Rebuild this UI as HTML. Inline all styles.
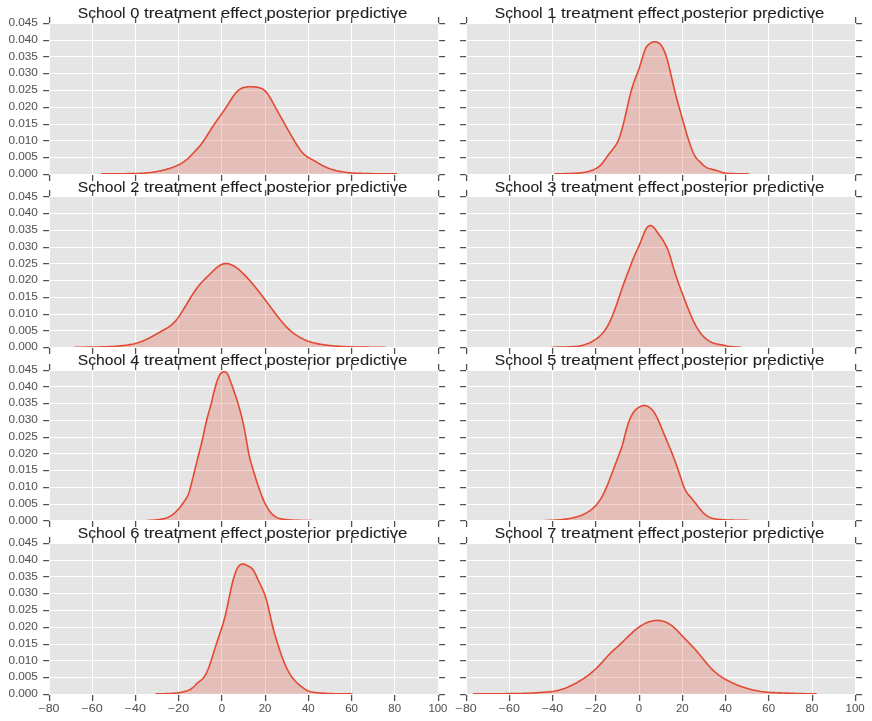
<!DOCTYPE html>
<html><head><meta charset="utf-8"><title>School treatment effect posterior predictive</title>
<style>html,body{margin:0;padding:0;background:#fff;overflow:hidden}body{width:872px;height:721px;font-family:"Liberation Sans",sans-serif}</style></head>
<body>
<svg width="872" height="721" viewBox="0 0 872 721" style="display:block;will-change:transform" font-family="Liberation Sans, sans-serif">
<rect width="872" height="721" fill="#fff"/>
<defs><clipPath id="c0"><rect x="50" y="24" width="388" height="150"/></clipPath><clipPath id="c1"><rect x="467" y="24" width="388" height="150"/></clipPath><clipPath id="c2"><rect x="50" y="197" width="388" height="150"/></clipPath><clipPath id="c3"><rect x="467" y="197" width="388" height="150"/></clipPath><clipPath id="c4"><rect x="50" y="371" width="388" height="149"/></clipPath><clipPath id="c5"><rect x="467" y="371" width="388" height="149"/></clipPath><clipPath id="c6"><rect x="50" y="544" width="388" height="150"/></clipPath><clipPath id="c7"><rect x="467" y="544" width="388" height="150"/></clipPath></defs>
<rect x="50" y="24" width="388" height="150" fill="#E5E5E5"/>
<path d="M92.5 24V174M135.5 24V174M178.5 24V174M221.5 24V174M265.5 24V174M308.5 24V174M351.5 24V174M394.5 24V174M50 157.5H438M50 140.5H438M50 124.5H438M50 107.5H438M50 90.5H438M50 73.5H438M50 56.5H438M50 40.5H438" stroke="#fff" stroke-width="1" fill="none" shape-rendering="crispEdges"/>
<g clip-path="url(#c0)"><polygon points="101,173.86 101,173.86 102.14,173.86 103.29,173.86 104.43,173.85 105.57,173.85 106.71,173.85 107.86,173.84 109,173.83 110.14,173.83 111.29,173.82 112.43,173.81 113.57,173.8 114.71,173.79 115.86,173.78 117,173.77 118.14,173.76 119.29,173.75 120.43,173.74 121.57,173.73 122.71,173.72 123.86,173.71 125,173.7 126.14,173.68 127.29,173.67 128.43,173.65 129.57,173.63 130.72,173.61 131.86,173.59 133,173.57 134.14,173.55 135.29,173.52 136.43,173.49 137.57,173.46 138.72,173.43 139.86,173.4 141,173.35 142.14,173.28 143.29,173.2 144.43,173.11 145.57,173.01 146.72,172.91 147.86,172.8 149,172.69 150.14,172.56 151.29,172.42 152.43,172.26 153.57,172.1 154.72,171.92 155.86,171.73 157,171.52 158.14,171.31 159.29,171.08 160.43,170.85 161.57,170.59 162.72,170.33 163.86,170.05 165,169.75 166.14,169.44 167.29,169.11 168.43,168.77 169.57,168.41 170.72,168.04 171.86,167.65 173,167.24 174.14,166.8 175.29,166.35 176.43,165.86 177.57,165.34 178.72,164.79 179.86,164.19 181,163.55 182.15,162.86 183.29,162.12 184.43,161.33 185.57,160.47 186.72,159.55 187.86,158.57 189,157.51 190.15,156.39 191.29,155.21 192.43,154 193.57,152.78 194.72,151.57 195.86,150.38 197,149.17 198.15,147.91 199.29,146.59 200.43,145.17 201.57,143.67 202.72,142.08 203.86,140.44 205,138.73 206.15,136.99 207.29,135.21 208.43,133.41 209.57,131.6 210.72,129.8 211.86,128 213,126.24 214.15,124.5 215.29,122.82 216.43,121.17 217.57,119.56 218.72,117.96 219.86,116.38 221,114.79 222.15,113.19 223.29,111.57 224.43,109.92 225.57,108.23 226.72,106.48 227.86,104.69 229,102.87 230.15,101.05 231.29,99.26 232.43,97.53 233.57,95.88 234.72,94.33 235.86,92.92 237,91.65 238.15,90.55 239.29,89.62 240.43,88.87 241.58,88.26 242.72,87.79 243.86,87.43 245,87.17 246.15,86.99 247.29,86.88 248.43,86.82 249.58,86.79 250.72,86.77 251.86,86.78 253,86.8 254.15,86.87 255.29,86.97 256.43,87.12 257.58,87.32 258.72,87.58 259.86,87.92 261,88.33 262.15,88.84 263.29,89.48 264.43,90.3 265.58,91.35 266.72,92.65 267.86,94.17 269,95.88 270.15,97.73 271.29,99.71 272.43,101.77 273.58,103.88 274.72,106.01 275.86,108.12 277,110.21 278.15,112.27 279.29,114.32 280.43,116.37 281.58,118.42 282.72,120.46 283.86,122.51 285,124.54 286.15,126.57 287.29,128.59 288.43,130.6 289.58,132.6 290.72,134.59 291.86,136.56 293,138.51 294.15,140.44 295.29,142.35 296.43,144.22 297.58,146.03 298.72,147.76 299.86,149.41 301.01,150.93 302.15,152.33 303.29,153.59 304.43,154.68 305.58,155.63 306.72,156.47 307.86,157.21 309.01,157.89 310.15,158.51 311.29,159.11 312.43,159.71 313.58,160.33 314.72,160.99 315.86,161.67 317.01,162.36 318.15,163.06 319.29,163.75 320.43,164.42 321.58,165.07 322.72,165.68 323.86,166.26 325.01,166.8 326.15,167.31 327.29,167.79 328.43,168.24 329.58,168.67 330.72,169.06 331.86,169.43 333.01,169.78 334.15,170.1 335.29,170.39 336.43,170.67 337.58,170.93 338.72,171.17 339.86,171.39 341.01,171.6 342.15,171.8 343.29,171.98 344.43,172.16 345.58,172.31 346.72,172.46 347.86,172.59 349.01,172.71 350.15,172.82 351.29,172.91 352.44,172.99 353.58,173.06 354.72,173.12 355.86,173.18 357.01,173.24 358.15,173.28 359.29,173.33 360.44,173.37 361.58,173.41 362.72,173.44 363.86,173.47 365.01,173.5 366.15,173.53 367.29,173.56 368.44,173.59 369.58,173.62 370.72,173.64 371.86,173.67 373.01,173.7 374.15,173.73 375.29,173.75 376.44,173.78 377.58,173.8 378.72,173.83 379.86,173.84 381.01,173.86 382.15,173.86 383.29,173.86 384.44,173.86 385.58,173.86 386.72,173.86 387.86,173.86 389.01,173.86 390.15,173.86 391.29,173.86 392.44,173.86 393.58,173.86 394.72,173.86 395.86,173.86 397.01,173.86 397.01,173.86" fill="#E24A33" fill-opacity="0.25"/><polyline points="101,173.86 102.14,173.86 103.29,173.86 104.43,173.85 105.57,173.85 106.71,173.85 107.86,173.84 109,173.83 110.14,173.83 111.29,173.82 112.43,173.81 113.57,173.8 114.71,173.79 115.86,173.78 117,173.77 118.14,173.76 119.29,173.75 120.43,173.74 121.57,173.73 122.71,173.72 123.86,173.71 125,173.7 126.14,173.68 127.29,173.67 128.43,173.65 129.57,173.63 130.72,173.61 131.86,173.59 133,173.57 134.14,173.55 135.29,173.52 136.43,173.49 137.57,173.46 138.72,173.43 139.86,173.4 141,173.35 142.14,173.28 143.29,173.2 144.43,173.11 145.57,173.01 146.72,172.91 147.86,172.8 149,172.69 150.14,172.56 151.29,172.42 152.43,172.26 153.57,172.1 154.72,171.92 155.86,171.73 157,171.52 158.14,171.31 159.29,171.08 160.43,170.85 161.57,170.59 162.72,170.33 163.86,170.05 165,169.75 166.14,169.44 167.29,169.11 168.43,168.77 169.57,168.41 170.72,168.04 171.86,167.65 173,167.24 174.14,166.8 175.29,166.35 176.43,165.86 177.57,165.34 178.72,164.79 179.86,164.19 181,163.55 182.15,162.86 183.29,162.12 184.43,161.33 185.57,160.47 186.72,159.55 187.86,158.57 189,157.51 190.15,156.39 191.29,155.21 192.43,154 193.57,152.78 194.72,151.57 195.86,150.38 197,149.17 198.15,147.91 199.29,146.59 200.43,145.17 201.57,143.67 202.72,142.08 203.86,140.44 205,138.73 206.15,136.99 207.29,135.21 208.43,133.41 209.57,131.6 210.72,129.8 211.86,128 213,126.24 214.15,124.5 215.29,122.82 216.43,121.17 217.57,119.56 218.72,117.96 219.86,116.38 221,114.79 222.15,113.19 223.29,111.57 224.43,109.92 225.57,108.23 226.72,106.48 227.86,104.69 229,102.87 230.15,101.05 231.29,99.26 232.43,97.53 233.57,95.88 234.72,94.33 235.86,92.92 237,91.65 238.15,90.55 239.29,89.62 240.43,88.87 241.58,88.26 242.72,87.79 243.86,87.43 245,87.17 246.15,86.99 247.29,86.88 248.43,86.82 249.58,86.79 250.72,86.77 251.86,86.78 253,86.8 254.15,86.87 255.29,86.97 256.43,87.12 257.58,87.32 258.72,87.58 259.86,87.92 261,88.33 262.15,88.84 263.29,89.48 264.43,90.3 265.58,91.35 266.72,92.65 267.86,94.17 269,95.88 270.15,97.73 271.29,99.71 272.43,101.77 273.58,103.88 274.72,106.01 275.86,108.12 277,110.21 278.15,112.27 279.29,114.32 280.43,116.37 281.58,118.42 282.72,120.46 283.86,122.51 285,124.54 286.15,126.57 287.29,128.59 288.43,130.6 289.58,132.6 290.72,134.59 291.86,136.56 293,138.51 294.15,140.44 295.29,142.35 296.43,144.22 297.58,146.03 298.72,147.76 299.86,149.41 301.01,150.93 302.15,152.33 303.29,153.59 304.43,154.68 305.58,155.63 306.72,156.47 307.86,157.21 309.01,157.89 310.15,158.51 311.29,159.11 312.43,159.71 313.58,160.33 314.72,160.99 315.86,161.67 317.01,162.36 318.15,163.06 319.29,163.75 320.43,164.42 321.58,165.07 322.72,165.68 323.86,166.26 325.01,166.8 326.15,167.31 327.29,167.79 328.43,168.24 329.58,168.67 330.72,169.06 331.86,169.43 333.01,169.78 334.15,170.1 335.29,170.39 336.43,170.67 337.58,170.93 338.72,171.17 339.86,171.39 341.01,171.6 342.15,171.8 343.29,171.98 344.43,172.16 345.58,172.31 346.72,172.46 347.86,172.59 349.01,172.71 350.15,172.82 351.29,172.91 352.44,172.99 353.58,173.06 354.72,173.12 355.86,173.18 357.01,173.24 358.15,173.28 359.29,173.33 360.44,173.37 361.58,173.41 362.72,173.44 363.86,173.47 365.01,173.5 366.15,173.53 367.29,173.56 368.44,173.59 369.58,173.62 370.72,173.64 371.86,173.67 373.01,173.7 374.15,173.73 375.29,173.75 376.44,173.78 377.58,173.8 378.72,173.83 379.86,173.84 381.01,173.86 382.15,173.86 383.29,173.86 384.44,173.86 385.58,173.86 386.72,173.86 387.86,173.86 389.01,173.86 390.15,173.86 391.29,173.86 392.44,173.86 393.58,173.86 394.72,173.86 395.86,173.86 397.01,173.86" fill="none" stroke="#E24A33" stroke-width="1.6" stroke-linejoin="round"/></g>
<text x="8.399999999999999" y="177" font-size="10.2" fill="#555555" stroke="#555555" stroke-width="0.05" textLength="29.5" lengthAdjust="spacingAndGlyphs">0.000</text>
<text x="8.399999999999999" y="160" font-size="10.2" fill="#555555" stroke="#555555" stroke-width="0.05" textLength="29.5" lengthAdjust="spacingAndGlyphs">0.005</text>
<text x="8.399999999999999" y="144" font-size="10.2" fill="#555555" stroke="#555555" stroke-width="0.05" textLength="29.5" lengthAdjust="spacingAndGlyphs">0.010</text>
<text x="8.399999999999999" y="127" font-size="10.2" fill="#555555" stroke="#555555" stroke-width="0.05" textLength="29.5" lengthAdjust="spacingAndGlyphs">0.015</text>
<text x="8.399999999999999" y="110" font-size="10.2" fill="#555555" stroke="#555555" stroke-width="0.05" textLength="29.5" lengthAdjust="spacingAndGlyphs">0.020</text>
<text x="8.399999999999999" y="93" font-size="10.2" fill="#555555" stroke="#555555" stroke-width="0.05" textLength="29.5" lengthAdjust="spacingAndGlyphs">0.025</text>
<text x="8.399999999999999" y="76" font-size="10.2" fill="#555555" stroke="#555555" stroke-width="0.05" textLength="29.5" lengthAdjust="spacingAndGlyphs">0.030</text>
<text x="8.399999999999999" y="60" font-size="10.2" fill="#555555" stroke="#555555" stroke-width="0.05" textLength="29.5" lengthAdjust="spacingAndGlyphs">0.035</text>
<text x="8.399999999999999" y="43" font-size="10.2" fill="#555555" stroke="#555555" stroke-width="0.05" textLength="29.5" lengthAdjust="spacingAndGlyphs">0.040</text>
<text x="8.399999999999999" y="26" font-size="10.2" fill="#555555" stroke="#555555" stroke-width="0.05" textLength="29.5" lengthAdjust="spacingAndGlyphs">0.045</text>
<path d="M49.5 17V23M49.5 175V181M92.5 17V23M92.5 175V181M135.5 17V23M135.5 175V181M178.5 17V23M178.5 175V181M221.5 17V23M221.5 175V181M265.5 17V23M265.5 175V181M308.5 17V23M308.5 175V181M351.5 17V23M351.5 175V181M394.5 17V23M394.5 175V181M438.5 17V23M438.5 175V181M43 174.5H49M439 174.5H445M43 157.5H49M439 157.5H445M43 140.5H49M439 140.5H445M43 124.5H49M439 124.5H445M43 107.5H49M439 107.5H445M43 90.5H49M439 90.5H445M43 73.5H49M439 73.5H445M43 56.5H49M439 56.5H445M43 40.5H49M439 40.5H445M43 23.5H49M439 23.5H445" stroke="#505050" stroke-width="1.3" fill="none" transform="translate(0.1,0.1)"/>
<text x="77.8" y="18" font-size="14.7" fill="#1e1e1e" stroke="#1e1e1e" stroke-width="0.08" textLength="47.81" lengthAdjust="spacingAndGlyphs">School</text>
<text x="130.19" y="18" font-size="14.7" fill="#1e1e1e" stroke="#1e1e1e" stroke-width="0.08" textLength="9.16" lengthAdjust="spacingAndGlyphs">0</text>
<text x="143.93" y="18" font-size="14.7" fill="#1e1e1e" stroke="#1e1e1e" stroke-width="0.08" textLength="72.24" lengthAdjust="spacingAndGlyphs">treatment</text>
<text x="220.75" y="18" font-size="14.7" fill="#1e1e1e" stroke="#1e1e1e" stroke-width="0.08" textLength="41.2" lengthAdjust="spacingAndGlyphs">effect</text>
<text x="266.53" y="18" font-size="14.7" fill="#1e1e1e" stroke="#1e1e1e" stroke-width="0.08" textLength="64.61" lengthAdjust="spacingAndGlyphs">posterior</text>
<text x="335.72" y="18" font-size="14.7" fill="#1e1e1e" stroke="#1e1e1e" stroke-width="0.08" textLength="71.69" lengthAdjust="spacingAndGlyphs">predictive</text>
<rect x="467" y="24" width="388" height="150" fill="#E5E5E5"/>
<path d="M509.5 24V174M552.5 24V174M595.5 24V174M639.5 24V174M682.5 24V174M725.5 24V174M768.5 24V174M812.5 24V174M467 157.5H855M467 140.5H855M467 124.5H855M467 107.5H855M467 90.5H855M467 73.5H855M467 56.5H855M467 40.5H855" stroke="#fff" stroke-width="1" fill="none" shape-rendering="crispEdges"/>
<g clip-path="url(#c1)"><polygon points="554.49,173.86 554.49,173.86 555.24,173.85 555.99,173.85 556.74,173.84 557.49,173.82 558.24,173.81 558.99,173.8 559.74,173.78 560.49,173.77 561.24,173.75 561.99,173.74 562.74,173.72 563.49,173.7 564.24,173.68 564.99,173.67 565.74,173.65 566.49,173.63 567.24,173.6 567.99,173.58 568.74,173.56 569.49,173.53 570.24,173.5 570.99,173.47 571.74,173.44 572.49,173.41 573.24,173.37 573.99,173.34 574.74,173.3 575.49,173.26 576.24,173.22 577,173.17 577.75,173.12 578.5,173.05 579.25,172.99 580,172.91 580.75,172.83 581.5,172.74 582.25,172.65 583,172.54 583.75,172.43 584.5,172.3 585.25,172.17 586,172.02 586.75,171.85 587.5,171.67 588.25,171.46 589,171.25 589.75,171.03 590.5,170.79 591.25,170.54 592,170.28 592.75,170 593.5,169.7 594.25,169.38 595,169.03 595.75,168.65 596.5,168.23 597.25,167.77 598,167.26 598.75,166.7 599.5,166.09 600.25,165.42 601,164.68 601.75,163.87 602.5,162.99 603.25,162.04 604,161.04 604.75,160.01 605.5,158.96 606.25,157.9 607,156.86 607.75,155.83 608.5,154.81 609.25,153.81 610,152.83 610.75,151.85 611.5,150.89 612.25,149.95 613,149.01 613.75,148.06 614.5,147.06 615.25,145.99 616,144.82 616.75,143.52 617.5,142.05 618.25,140.4 619,138.53 619.75,136.45 620.5,134.19 621.25,131.74 622,129.13 622.75,126.37 623.5,123.46 624.25,120.43 625,117.29 625.75,114.04 626.5,110.73 627.25,107.39 628,104.06 628.75,100.8 629.5,97.63 630.25,94.61 631,91.75 631.75,89.05 632.5,86.53 633.25,84.16 634,81.97 634.75,79.92 635.5,77.99 636.25,76.11 637,74.24 637.75,72.33 638.5,70.32 639.25,68.17 640,65.83 640.75,63.35 641.5,60.79 642.25,58.22 643,55.72 643.75,53.36 644.5,51.2 645.25,49.3 646,47.71 646.75,46.48 647.5,45.57 648.25,44.85 649,44.22 649.75,43.66 650.5,43.16 651.25,42.73 652,42.37 652.75,42.09 653.5,41.88 654.25,41.76 655,41.72 655.75,41.78 656.5,41.92 657.25,42.17 658,42.51 658.75,42.97 659.5,43.56 660.25,44.28 661,45.14 661.75,46.17 662.5,47.37 663.25,48.75 664,50.33 664.75,52.11 665.5,54.12 666.25,56.35 667,58.82 667.75,61.5 668.5,64.36 669.25,67.37 670,70.49 670.75,73.7 671.5,76.96 672.25,80.24 673,83.5 673.75,86.72 674.5,89.87 675.25,92.9 676,95.84 676.75,98.69 677.5,101.47 678.25,104.19 679,106.86 679.75,109.51 680.5,112.15 681.25,114.79 682,117.44 682.75,120.1 683.5,122.76 684.25,125.41 685,128.04 685.75,130.64 686.5,133.2 687.25,135.71 688,138.16 688.75,140.53 689.5,142.83 690.25,145.04 691,147.15 691.75,149.14 692.5,151 693.25,152.73 694,154.31 694.75,155.73 695.5,156.97 696.25,158.04 697,158.95 697.75,159.74 698.5,160.47 699.25,161.16 700,161.86 700.75,162.6 701.5,163.37 702.25,164.13 703,164.87 703.75,165.55 704.5,166.15 705.25,166.68 706,167.15 706.75,167.55 707.5,167.9 708.25,168.21 709,168.47 709.75,168.71 710.5,168.92 711.25,169.11 712,169.3 712.75,169.48 713.5,169.67 714.25,169.87 715,170.09 715.75,170.31 716.5,170.54 717.25,170.78 718,171.03 718.75,171.27 719.5,171.51 720.25,171.76 721,172 721.75,172.24 722.5,172.47 723.25,172.69 724,172.9 724.75,173.06 725.5,173.18 726.25,173.28 727,173.35 727.75,173.42 728.5,173.46 729.25,173.5 730,173.53 730.75,173.56 731.5,173.58 732.25,173.6 733,173.63 733.75,173.65 734.5,173.67 735.26,173.68 736.01,173.7 736.76,173.71 737.51,173.73 738.26,173.74 739.01,173.75 739.76,173.76 740.51,173.77 741.26,173.78 742.01,173.79 742.76,173.81 743.51,173.81 744.26,173.82 745.01,173.83 745.76,173.84 746.51,173.85 747.26,173.85 748.01,173.86 748.76,173.86 748.76,173.86" fill="#E24A33" fill-opacity="0.25"/><polyline points="554.49,173.86 555.24,173.85 555.99,173.85 556.74,173.84 557.49,173.82 558.24,173.81 558.99,173.8 559.74,173.78 560.49,173.77 561.24,173.75 561.99,173.74 562.74,173.72 563.49,173.7 564.24,173.68 564.99,173.67 565.74,173.65 566.49,173.63 567.24,173.6 567.99,173.58 568.74,173.56 569.49,173.53 570.24,173.5 570.99,173.47 571.74,173.44 572.49,173.41 573.24,173.37 573.99,173.34 574.74,173.3 575.49,173.26 576.24,173.22 577,173.17 577.75,173.12 578.5,173.05 579.25,172.99 580,172.91 580.75,172.83 581.5,172.74 582.25,172.65 583,172.54 583.75,172.43 584.5,172.3 585.25,172.17 586,172.02 586.75,171.85 587.5,171.67 588.25,171.46 589,171.25 589.75,171.03 590.5,170.79 591.25,170.54 592,170.28 592.75,170 593.5,169.7 594.25,169.38 595,169.03 595.75,168.65 596.5,168.23 597.25,167.77 598,167.26 598.75,166.7 599.5,166.09 600.25,165.42 601,164.68 601.75,163.87 602.5,162.99 603.25,162.04 604,161.04 604.75,160.01 605.5,158.96 606.25,157.9 607,156.86 607.75,155.83 608.5,154.81 609.25,153.81 610,152.83 610.75,151.85 611.5,150.89 612.25,149.95 613,149.01 613.75,148.06 614.5,147.06 615.25,145.99 616,144.82 616.75,143.52 617.5,142.05 618.25,140.4 619,138.53 619.75,136.45 620.5,134.19 621.25,131.74 622,129.13 622.75,126.37 623.5,123.46 624.25,120.43 625,117.29 625.75,114.04 626.5,110.73 627.25,107.39 628,104.06 628.75,100.8 629.5,97.63 630.25,94.61 631,91.75 631.75,89.05 632.5,86.53 633.25,84.16 634,81.97 634.75,79.92 635.5,77.99 636.25,76.11 637,74.24 637.75,72.33 638.5,70.32 639.25,68.17 640,65.83 640.75,63.35 641.5,60.79 642.25,58.22 643,55.72 643.75,53.36 644.5,51.2 645.25,49.3 646,47.71 646.75,46.48 647.5,45.57 648.25,44.85 649,44.22 649.75,43.66 650.5,43.16 651.25,42.73 652,42.37 652.75,42.09 653.5,41.88 654.25,41.76 655,41.72 655.75,41.78 656.5,41.92 657.25,42.17 658,42.51 658.75,42.97 659.5,43.56 660.25,44.28 661,45.14 661.75,46.17 662.5,47.37 663.25,48.75 664,50.33 664.75,52.11 665.5,54.12 666.25,56.35 667,58.82 667.75,61.5 668.5,64.36 669.25,67.37 670,70.49 670.75,73.7 671.5,76.96 672.25,80.24 673,83.5 673.75,86.72 674.5,89.87 675.25,92.9 676,95.84 676.75,98.69 677.5,101.47 678.25,104.19 679,106.86 679.75,109.51 680.5,112.15 681.25,114.79 682,117.44 682.75,120.1 683.5,122.76 684.25,125.41 685,128.04 685.75,130.64 686.5,133.2 687.25,135.71 688,138.16 688.75,140.53 689.5,142.83 690.25,145.04 691,147.15 691.75,149.14 692.5,151 693.25,152.73 694,154.31 694.75,155.73 695.5,156.97 696.25,158.04 697,158.95 697.75,159.74 698.5,160.47 699.25,161.16 700,161.86 700.75,162.6 701.5,163.37 702.25,164.13 703,164.87 703.75,165.55 704.5,166.15 705.25,166.68 706,167.15 706.75,167.55 707.5,167.9 708.25,168.21 709,168.47 709.75,168.71 710.5,168.92 711.25,169.11 712,169.3 712.75,169.48 713.5,169.67 714.25,169.87 715,170.09 715.75,170.31 716.5,170.54 717.25,170.78 718,171.03 718.75,171.27 719.5,171.51 720.25,171.76 721,172 721.75,172.24 722.5,172.47 723.25,172.69 724,172.9 724.75,173.06 725.5,173.18 726.25,173.28 727,173.35 727.75,173.42 728.5,173.46 729.25,173.5 730,173.53 730.75,173.56 731.5,173.58 732.25,173.6 733,173.63 733.75,173.65 734.5,173.67 735.26,173.68 736.01,173.7 736.76,173.71 737.51,173.73 738.26,173.74 739.01,173.75 739.76,173.76 740.51,173.77 741.26,173.78 742.01,173.79 742.76,173.81 743.51,173.81 744.26,173.82 745.01,173.83 745.76,173.84 746.51,173.85 747.26,173.85 748.01,173.86 748.76,173.86" fill="none" stroke="#E24A33" stroke-width="1.6" stroke-linejoin="round"/></g>
<path d="M466.5 17V23M466.5 175V181M509.5 17V23M509.5 175V181M552.5 17V23M552.5 175V181M595.5 17V23M595.5 175V181M639.5 17V23M639.5 175V181M682.5 17V23M682.5 175V181M725.5 17V23M725.5 175V181M768.5 17V23M768.5 175V181M812.5 17V23M812.5 175V181M855.5 17V23M855.5 175V181M460 174.5H466M856 174.5H862M460 157.5H466M856 157.5H862M460 140.5H466M856 140.5H862M460 124.5H466M856 124.5H862M460 107.5H466M856 107.5H862M460 90.5H466M856 90.5H862M460 73.5H466M856 73.5H862M460 56.5H466M856 56.5H862M460 40.5H466M856 40.5H862M460 23.5H466M856 23.5H862" stroke="#505050" stroke-width="1.3" fill="none" transform="translate(0.1,0.1)"/>
<text x="494.8" y="18" font-size="14.7" fill="#1e1e1e" stroke="#1e1e1e" stroke-width="0.08" textLength="47.81" lengthAdjust="spacingAndGlyphs">School</text>
<text x="547.19" y="18" font-size="14.7" fill="#1e1e1e" stroke="#1e1e1e" stroke-width="0.08" textLength="9.16" lengthAdjust="spacingAndGlyphs">1</text>
<text x="560.93" y="18" font-size="14.7" fill="#1e1e1e" stroke="#1e1e1e" stroke-width="0.08" textLength="72.24" lengthAdjust="spacingAndGlyphs">treatment</text>
<text x="637.75" y="18" font-size="14.7" fill="#1e1e1e" stroke="#1e1e1e" stroke-width="0.08" textLength="41.2" lengthAdjust="spacingAndGlyphs">effect</text>
<text x="683.53" y="18" font-size="14.7" fill="#1e1e1e" stroke="#1e1e1e" stroke-width="0.08" textLength="64.61" lengthAdjust="spacingAndGlyphs">posterior</text>
<text x="752.72" y="18" font-size="14.7" fill="#1e1e1e" stroke="#1e1e1e" stroke-width="0.08" textLength="71.69" lengthAdjust="spacingAndGlyphs">predictive</text>
<rect x="50" y="197" width="388" height="150" fill="#E5E5E5"/>
<path d="M92.5 197V347M135.5 197V347M178.5 197V347M221.5 197V347M265.5 197V347M308.5 197V347M351.5 197V347M394.5 197V347M50 330.5H438M50 314.5H438M50 297.5H438M50 280.5H438M50 263.5H438M50 247.5H438M50 230.5H438M50 213.5H438" stroke="#fff" stroke-width="1" fill="none" shape-rendering="crispEdges"/>
<g clip-path="url(#c2)"><polygon points="74.5,347.24 74.5,347.24 75.71,347.24 76.91,347.24 78.11,347.23 79.31,347.23 80.51,347.22 81.71,347.21 82.91,347.2 84.11,347.19 85.31,347.18 86.51,347.17 87.71,347.16 88.91,347.14 90.11,347.13 91.31,347.11 92.51,347.1 93.71,347.08 94.92,347.05 96.12,347.03 97.32,347 98.52,346.98 99.72,346.95 100.92,346.92 102.12,346.89 103.32,346.85 104.52,346.82 105.72,346.79 106.92,346.75 108.12,346.71 109.32,346.67 110.52,346.62 111.72,346.57 112.92,346.51 114.13,346.44 115.33,346.37 116.53,346.28 117.73,346.17 118.93,346.05 120.13,345.92 121.33,345.79 122.53,345.65 123.73,345.51 124.93,345.37 126.13,345.21 127.33,345.05 128.53,344.86 129.73,344.66 130.93,344.44 132.14,344.2 133.34,343.94 134.54,343.66 135.74,343.35 136.94,343.02 138.14,342.66 139.34,342.27 140.54,341.86 141.74,341.41 142.94,340.93 144.14,340.42 145.34,339.89 146.54,339.33 147.74,338.74 148.94,338.14 150.14,337.52 151.35,336.88 152.55,336.23 153.75,335.57 154.95,334.9 156.15,334.23 157.35,333.54 158.55,332.86 159.75,332.18 160.95,331.49 162.15,330.81 163.35,330.14 164.55,329.47 165.75,328.79 166.95,328.07 168.15,327.32 169.35,326.51 170.56,325.63 171.76,324.67 172.96,323.61 174.16,322.43 175.36,321.13 176.56,319.69 177.76,318.13 178.96,316.46 180.16,314.69 181.36,312.85 182.56,310.94 183.76,308.99 184.96,307 186.16,304.99 187.36,302.98 188.56,300.98 189.77,299 190.97,297.04 192.17,295.13 193.37,293.27 194.57,291.47 195.77,289.73 196.97,288.08 198.17,286.51 199.37,285.03 200.57,283.63 201.77,282.3 202.97,281.02 204.17,279.79 205.37,278.59 206.57,277.41 207.77,276.24 208.98,275.07 210.18,273.89 211.38,272.7 212.58,271.51 213.78,270.35 214.98,269.21 216.18,268.14 217.38,267.14 218.58,266.23 219.78,265.43 220.98,264.77 222.18,264.24 223.38,263.87 224.58,263.64 225.78,263.55 226.98,263.58 228.19,263.75 229.39,264.03 230.59,264.42 231.79,264.91 232.99,265.51 234.19,266.19 235.39,266.96 236.59,267.8 237.79,268.72 238.99,269.7 240.19,270.74 241.39,271.83 242.59,272.96 243.79,274.14 244.99,275.36 246.19,276.61 247.4,277.9 248.6,279.23 249.8,280.58 251,281.97 252.2,283.38 253.4,284.82 254.6,286.28 255.8,287.76 257,289.26 258.2,290.78 259.4,292.31 260.6,293.86 261.8,295.42 263,296.99 264.2,298.58 265.4,300.17 266.61,301.77 267.81,303.38 269.01,304.99 270.21,306.61 271.41,308.22 272.61,309.84 273.81,311.45 275.01,313.05 276.21,314.64 277.41,316.21 278.61,317.75 279.81,319.26 281.01,320.73 282.21,322.17 283.41,323.56 284.61,324.91 285.82,326.2 287.02,327.43 288.22,328.6 289.42,329.72 290.62,330.79 291.82,331.8 293.02,332.77 294.22,333.68 295.42,334.54 296.62,335.36 297.82,336.14 299.02,336.87 300.22,337.56 301.42,338.21 302.62,338.81 303.82,339.39 305.03,339.92 306.23,340.42 307.43,340.89 308.63,341.33 309.83,341.74 311.03,342.12 312.23,342.47 313.43,342.79 314.63,343.09 315.83,343.37 317.03,343.63 318.23,343.87 319.43,344.09 320.63,344.3 321.83,344.49 323.03,344.66 324.24,344.82 325.44,344.98 326.64,345.13 327.84,345.28 329.04,345.43 330.24,345.57 331.44,345.7 332.64,345.82 333.84,345.93 335.04,346.03 336.24,346.13 337.44,346.23 338.64,346.32 339.84,346.4 341.04,346.47 342.24,346.53 343.45,346.59 344.65,346.64 345.85,346.69 347.05,346.74 348.25,346.78 349.45,346.82 350.65,346.85 351.85,346.88 353.05,346.91 354.25,346.93 355.45,346.96 356.65,346.98 357.85,347 359.05,347.02 360.25,347.04 361.45,347.06 362.66,347.08 363.86,347.09 365.06,347.11 366.26,347.13 367.46,347.15 368.66,347.17 369.86,347.19 371.06,347.2 372.26,347.22 373.46,347.23 374.66,347.24 375.86,347.24 377.06,347.24 378.26,347.24 379.46,347.24 380.66,347.24 381.87,347.24 383.07,347.24 384.27,347.24 385.47,347.24 385.47,347.24" fill="#E24A33" fill-opacity="0.25"/><polyline points="74.5,347.24 75.71,347.24 76.91,347.24 78.11,347.23 79.31,347.23 80.51,347.22 81.71,347.21 82.91,347.2 84.11,347.19 85.31,347.18 86.51,347.17 87.71,347.16 88.91,347.14 90.11,347.13 91.31,347.11 92.51,347.1 93.71,347.08 94.92,347.05 96.12,347.03 97.32,347 98.52,346.98 99.72,346.95 100.92,346.92 102.12,346.89 103.32,346.85 104.52,346.82 105.72,346.79 106.92,346.75 108.12,346.71 109.32,346.67 110.52,346.62 111.72,346.57 112.92,346.51 114.13,346.44 115.33,346.37 116.53,346.28 117.73,346.17 118.93,346.05 120.13,345.92 121.33,345.79 122.53,345.65 123.73,345.51 124.93,345.37 126.13,345.21 127.33,345.05 128.53,344.86 129.73,344.66 130.93,344.44 132.14,344.2 133.34,343.94 134.54,343.66 135.74,343.35 136.94,343.02 138.14,342.66 139.34,342.27 140.54,341.86 141.74,341.41 142.94,340.93 144.14,340.42 145.34,339.89 146.54,339.33 147.74,338.74 148.94,338.14 150.14,337.52 151.35,336.88 152.55,336.23 153.75,335.57 154.95,334.9 156.15,334.23 157.35,333.54 158.55,332.86 159.75,332.18 160.95,331.49 162.15,330.81 163.35,330.14 164.55,329.47 165.75,328.79 166.95,328.07 168.15,327.32 169.35,326.51 170.56,325.63 171.76,324.67 172.96,323.61 174.16,322.43 175.36,321.13 176.56,319.69 177.76,318.13 178.96,316.46 180.16,314.69 181.36,312.85 182.56,310.94 183.76,308.99 184.96,307 186.16,304.99 187.36,302.98 188.56,300.98 189.77,299 190.97,297.04 192.17,295.13 193.37,293.27 194.57,291.47 195.77,289.73 196.97,288.08 198.17,286.51 199.37,285.03 200.57,283.63 201.77,282.3 202.97,281.02 204.17,279.79 205.37,278.59 206.57,277.41 207.77,276.24 208.98,275.07 210.18,273.89 211.38,272.7 212.58,271.51 213.78,270.35 214.98,269.21 216.18,268.14 217.38,267.14 218.58,266.23 219.78,265.43 220.98,264.77 222.18,264.24 223.38,263.87 224.58,263.64 225.78,263.55 226.98,263.58 228.19,263.75 229.39,264.03 230.59,264.42 231.79,264.91 232.99,265.51 234.19,266.19 235.39,266.96 236.59,267.8 237.79,268.72 238.99,269.7 240.19,270.74 241.39,271.83 242.59,272.96 243.79,274.14 244.99,275.36 246.19,276.61 247.4,277.9 248.6,279.23 249.8,280.58 251,281.97 252.2,283.38 253.4,284.82 254.6,286.28 255.8,287.76 257,289.26 258.2,290.78 259.4,292.31 260.6,293.86 261.8,295.42 263,296.99 264.2,298.58 265.4,300.17 266.61,301.77 267.81,303.38 269.01,304.99 270.21,306.61 271.41,308.22 272.61,309.84 273.81,311.45 275.01,313.05 276.21,314.64 277.41,316.21 278.61,317.75 279.81,319.26 281.01,320.73 282.21,322.17 283.41,323.56 284.61,324.91 285.82,326.2 287.02,327.43 288.22,328.6 289.42,329.72 290.62,330.79 291.82,331.8 293.02,332.77 294.22,333.68 295.42,334.54 296.62,335.36 297.82,336.14 299.02,336.87 300.22,337.56 301.42,338.21 302.62,338.81 303.82,339.39 305.03,339.92 306.23,340.42 307.43,340.89 308.63,341.33 309.83,341.74 311.03,342.12 312.23,342.47 313.43,342.79 314.63,343.09 315.83,343.37 317.03,343.63 318.23,343.87 319.43,344.09 320.63,344.3 321.83,344.49 323.03,344.66 324.24,344.82 325.44,344.98 326.64,345.13 327.84,345.28 329.04,345.43 330.24,345.57 331.44,345.7 332.64,345.82 333.84,345.93 335.04,346.03 336.24,346.13 337.44,346.23 338.64,346.32 339.84,346.4 341.04,346.47 342.24,346.53 343.45,346.59 344.65,346.64 345.85,346.69 347.05,346.74 348.25,346.78 349.45,346.82 350.65,346.85 351.85,346.88 353.05,346.91 354.25,346.93 355.45,346.96 356.65,346.98 357.85,347 359.05,347.02 360.25,347.04 361.45,347.06 362.66,347.08 363.86,347.09 365.06,347.11 366.26,347.13 367.46,347.15 368.66,347.17 369.86,347.19 371.06,347.2 372.26,347.22 373.46,347.23 374.66,347.24 375.86,347.24 377.06,347.24 378.26,347.24 379.46,347.24 380.66,347.24 381.87,347.24 383.07,347.24 384.27,347.24 385.47,347.24" fill="none" stroke="#E24A33" stroke-width="1.6" stroke-linejoin="round"/></g>
<text x="8.399999999999999" y="350" font-size="10.2" fill="#555555" stroke="#555555" stroke-width="0.05" textLength="29.5" lengthAdjust="spacingAndGlyphs">0.000</text>
<text x="8.399999999999999" y="334" font-size="10.2" fill="#555555" stroke="#555555" stroke-width="0.05" textLength="29.5" lengthAdjust="spacingAndGlyphs">0.005</text>
<text x="8.399999999999999" y="317" font-size="10.2" fill="#555555" stroke="#555555" stroke-width="0.05" textLength="29.5" lengthAdjust="spacingAndGlyphs">0.010</text>
<text x="8.399999999999999" y="300" font-size="10.2" fill="#555555" stroke="#555555" stroke-width="0.05" textLength="29.5" lengthAdjust="spacingAndGlyphs">0.015</text>
<text x="8.399999999999999" y="283" font-size="10.2" fill="#555555" stroke="#555555" stroke-width="0.05" textLength="29.5" lengthAdjust="spacingAndGlyphs">0.020</text>
<text x="8.399999999999999" y="267" font-size="10.2" fill="#555555" stroke="#555555" stroke-width="0.05" textLength="29.5" lengthAdjust="spacingAndGlyphs">0.025</text>
<text x="8.399999999999999" y="250" font-size="10.2" fill="#555555" stroke="#555555" stroke-width="0.05" textLength="29.5" lengthAdjust="spacingAndGlyphs">0.030</text>
<text x="8.399999999999999" y="233" font-size="10.2" fill="#555555" stroke="#555555" stroke-width="0.05" textLength="29.5" lengthAdjust="spacingAndGlyphs">0.035</text>
<text x="8.399999999999999" y="216" font-size="10.2" fill="#555555" stroke="#555555" stroke-width="0.05" textLength="29.5" lengthAdjust="spacingAndGlyphs">0.040</text>
<text x="8.399999999999999" y="200" font-size="10.2" fill="#555555" stroke="#555555" stroke-width="0.05" textLength="29.5" lengthAdjust="spacingAndGlyphs">0.045</text>
<path d="M49.5 190V196M49.5 348V354M92.5 190V196M92.5 348V354M135.5 190V196M135.5 348V354M178.5 190V196M178.5 348V354M221.5 190V196M221.5 348V354M265.5 190V196M265.5 348V354M308.5 190V196M308.5 348V354M351.5 190V196M351.5 348V354M394.5 190V196M394.5 348V354M438.5 190V196M438.5 348V354M43 347.5H49M439 347.5H445M43 330.5H49M439 330.5H445M43 314.5H49M439 314.5H445M43 297.5H49M439 297.5H445M43 280.5H49M439 280.5H445M43 263.5H49M439 263.5H445M43 247.5H49M439 247.5H445M43 230.5H49M439 230.5H445M43 213.5H49M439 213.5H445M43 196.5H49M439 196.5H445" stroke="#505050" stroke-width="1.3" fill="none" transform="translate(0.1,0.1)"/>
<text x="77.8" y="192" font-size="14.7" fill="#1e1e1e" stroke="#1e1e1e" stroke-width="0.08" textLength="47.81" lengthAdjust="spacingAndGlyphs">School</text>
<text x="130.19" y="192" font-size="14.7" fill="#1e1e1e" stroke="#1e1e1e" stroke-width="0.08" textLength="9.16" lengthAdjust="spacingAndGlyphs">2</text>
<text x="143.93" y="192" font-size="14.7" fill="#1e1e1e" stroke="#1e1e1e" stroke-width="0.08" textLength="72.24" lengthAdjust="spacingAndGlyphs">treatment</text>
<text x="220.75" y="192" font-size="14.7" fill="#1e1e1e" stroke="#1e1e1e" stroke-width="0.08" textLength="41.2" lengthAdjust="spacingAndGlyphs">effect</text>
<text x="266.53" y="192" font-size="14.7" fill="#1e1e1e" stroke="#1e1e1e" stroke-width="0.08" textLength="64.61" lengthAdjust="spacingAndGlyphs">posterior</text>
<text x="335.72" y="192" font-size="14.7" fill="#1e1e1e" stroke="#1e1e1e" stroke-width="0.08" textLength="71.69" lengthAdjust="spacingAndGlyphs">predictive</text>
<rect x="467" y="197" width="388" height="150" fill="#E5E5E5"/>
<path d="M509.5 197V347M552.5 197V347M595.5 197V347M639.5 197V347M682.5 197V347M725.5 197V347M768.5 197V347M812.5 197V347M467 330.5H855M467 314.5H855M467 297.5H855M467 280.5H855M467 263.5H855M467 247.5H855M467 230.5H855M467 213.5H855" stroke="#fff" stroke-width="1" fill="none" shape-rendering="crispEdges"/>
<g clip-path="url(#c3)"><polygon points="551.25,347.24 551.25,347.24 551.99,347.24 552.72,347.23 553.45,347.23 554.19,347.22 554.92,347.21 555.65,347.2 556.39,347.19 557.12,347.17 557.85,347.16 558.59,347.14 559.32,347.13 560.06,347.11 560.79,347.1 561.52,347.08 562.26,347.06 562.99,347.05 563.72,347.03 564.46,347.01 565.19,346.99 565.92,346.97 566.66,346.95 567.39,346.92 568.12,346.9 568.86,346.87 569.59,346.84 570.33,346.81 571.06,346.77 571.79,346.74 572.53,346.7 573.26,346.66 573.99,346.62 574.73,346.57 575.46,346.52 576.19,346.47 576.93,346.4 577.66,346.31 578.4,346.2 579.13,346.08 579.86,345.95 580.6,345.8 581.33,345.64 582.06,345.46 582.8,345.27 583.53,345.06 584.26,344.84 585,344.61 585.73,344.36 586.47,344.1 587.2,343.82 587.93,343.53 588.67,343.22 589.4,342.89 590.13,342.54 590.87,342.18 591.6,341.79 592.33,341.39 593.07,340.97 593.8,340.52 594.53,340.06 595.27,339.58 596,339.07 596.74,338.54 597.47,337.99 598.2,337.41 598.94,336.8 599.67,336.15 600.4,335.47 601.14,334.74 601.87,333.97 602.6,333.15 603.34,332.27 604.07,331.35 604.81,330.36 605.54,329.31 606.27,328.19 607.01,327.01 607.74,325.75 608.47,324.41 609.21,322.99 609.94,321.49 610.67,319.91 611.41,318.24 612.14,316.5 612.88,314.69 613.61,312.81 614.34,310.88 615.08,308.89 615.81,306.85 616.54,304.77 617.28,302.65 618.01,300.51 618.74,298.33 619.48,296.14 620.21,293.94 620.94,291.73 621.68,289.54 622.41,287.37 623.15,285.24 623.88,283.15 624.61,281.12 625.35,279.16 626.08,277.25 626.81,275.38 627.55,273.51 628.28,271.62 629.01,269.69 629.75,267.73 630.48,265.77 631.22,263.81 631.95,261.89 632.68,260 633.42,258.18 634.15,256.44 634.88,254.78 635.62,253.19 636.35,251.62 637.08,250.06 637.82,248.47 638.55,246.83 639.29,245.12 640.02,243.36 640.75,241.56 641.49,239.72 642.22,237.86 642.95,235.98 643.69,234.12 644.42,232.36 645.15,230.75 645.89,229.36 646.62,228.2 647.35,227.25 648.09,226.52 648.82,225.99 649.56,225.67 650.29,225.55 651.02,225.62 651.76,225.88 652.49,226.32 653.22,226.93 653.96,227.68 654.69,228.56 655.42,229.52 656.16,230.54 656.89,231.6 657.63,232.67 658.36,233.71 659.09,234.74 659.83,235.75 660.56,236.77 661.29,237.8 662.03,238.87 662.76,239.97 663.49,241.13 664.23,242.35 664.96,243.65 665.7,245.04 666.43,246.53 667.16,248.14 667.9,249.89 668.63,251.8 669.36,253.92 670.1,256.27 670.83,258.78 671.56,261.37 672.3,263.94 673.03,266.45 673.76,268.88 674.5,271.25 675.23,273.55 675.97,275.8 676.7,277.99 677.43,280.13 678.17,282.22 678.9,284.28 679.63,286.3 680.37,288.3 681.1,290.27 681.83,292.22 682.57,294.15 683.3,296.08 684.04,298 684.77,299.93 685.5,301.85 686.24,303.75 686.97,305.65 687.7,307.53 688.44,309.38 689.17,311.2 689.9,313 690.64,314.75 691.37,316.46 692.1,318.13 692.84,319.74 693.57,321.3 694.31,322.8 695.04,324.23 695.77,325.6 696.51,326.91 697.24,328.15 697.97,329.34 698.71,330.46 699.44,331.53 700.17,332.55 700.91,333.51 701.64,334.42 702.38,335.27 703.11,336.08 703.84,336.84 704.58,337.55 705.31,338.22 706.04,338.84 706.78,339.42 707.51,339.96 708.24,340.46 708.98,340.93 709.71,341.35 710.45,341.75 711.18,342.1 711.91,342.43 712.65,342.73 713.38,343 714.11,343.25 714.85,343.48 715.58,343.69 716.31,343.88 717.05,344.05 717.78,344.21 718.51,344.36 719.25,344.5 719.98,344.63 720.72,344.76 721.45,344.88 722.18,345.01 722.92,345.13 723.65,345.25 724.38,345.39 725.12,345.56 725.85,345.77 726.58,345.95 727.32,346.1 728.05,346.23 728.79,346.35 729.52,346.45 730.25,346.55 730.99,346.63 731.72,346.7 732.45,346.76 733.19,346.82 733.92,346.87 734.65,346.92 735.39,346.97 736.12,347.02 736.86,347.06 737.59,347.1 738.32,347.14 739.06,347.17 739.79,347.2 740.52,347.22 741.26,347.24 741.26,347.24" fill="#E24A33" fill-opacity="0.25"/><polyline points="551.25,347.24 551.99,347.24 552.72,347.23 553.45,347.23 554.19,347.22 554.92,347.21 555.65,347.2 556.39,347.19 557.12,347.17 557.85,347.16 558.59,347.14 559.32,347.13 560.06,347.11 560.79,347.1 561.52,347.08 562.26,347.06 562.99,347.05 563.72,347.03 564.46,347.01 565.19,346.99 565.92,346.97 566.66,346.95 567.39,346.92 568.12,346.9 568.86,346.87 569.59,346.84 570.33,346.81 571.06,346.77 571.79,346.74 572.53,346.7 573.26,346.66 573.99,346.62 574.73,346.57 575.46,346.52 576.19,346.47 576.93,346.4 577.66,346.31 578.4,346.2 579.13,346.08 579.86,345.95 580.6,345.8 581.33,345.64 582.06,345.46 582.8,345.27 583.53,345.06 584.26,344.84 585,344.61 585.73,344.36 586.47,344.1 587.2,343.82 587.93,343.53 588.67,343.22 589.4,342.89 590.13,342.54 590.87,342.18 591.6,341.79 592.33,341.39 593.07,340.97 593.8,340.52 594.53,340.06 595.27,339.58 596,339.07 596.74,338.54 597.47,337.99 598.2,337.41 598.94,336.8 599.67,336.15 600.4,335.47 601.14,334.74 601.87,333.97 602.6,333.15 603.34,332.27 604.07,331.35 604.81,330.36 605.54,329.31 606.27,328.19 607.01,327.01 607.74,325.75 608.47,324.41 609.21,322.99 609.94,321.49 610.67,319.91 611.41,318.24 612.14,316.5 612.88,314.69 613.61,312.81 614.34,310.88 615.08,308.89 615.81,306.85 616.54,304.77 617.28,302.65 618.01,300.51 618.74,298.33 619.48,296.14 620.21,293.94 620.94,291.73 621.68,289.54 622.41,287.37 623.15,285.24 623.88,283.15 624.61,281.12 625.35,279.16 626.08,277.25 626.81,275.38 627.55,273.51 628.28,271.62 629.01,269.69 629.75,267.73 630.48,265.77 631.22,263.81 631.95,261.89 632.68,260 633.42,258.18 634.15,256.44 634.88,254.78 635.62,253.19 636.35,251.62 637.08,250.06 637.82,248.47 638.55,246.83 639.29,245.12 640.02,243.36 640.75,241.56 641.49,239.72 642.22,237.86 642.95,235.98 643.69,234.12 644.42,232.36 645.15,230.75 645.89,229.36 646.62,228.2 647.35,227.25 648.09,226.52 648.82,225.99 649.56,225.67 650.29,225.55 651.02,225.62 651.76,225.88 652.49,226.32 653.22,226.93 653.96,227.68 654.69,228.56 655.42,229.52 656.16,230.54 656.89,231.6 657.63,232.67 658.36,233.71 659.09,234.74 659.83,235.75 660.56,236.77 661.29,237.8 662.03,238.87 662.76,239.97 663.49,241.13 664.23,242.35 664.96,243.65 665.7,245.04 666.43,246.53 667.16,248.14 667.9,249.89 668.63,251.8 669.36,253.92 670.1,256.27 670.83,258.78 671.56,261.37 672.3,263.94 673.03,266.45 673.76,268.88 674.5,271.25 675.23,273.55 675.97,275.8 676.7,277.99 677.43,280.13 678.17,282.22 678.9,284.28 679.63,286.3 680.37,288.3 681.1,290.27 681.83,292.22 682.57,294.15 683.3,296.08 684.04,298 684.77,299.93 685.5,301.85 686.24,303.75 686.97,305.65 687.7,307.53 688.44,309.38 689.17,311.2 689.9,313 690.64,314.75 691.37,316.46 692.1,318.13 692.84,319.74 693.57,321.3 694.31,322.8 695.04,324.23 695.77,325.6 696.51,326.91 697.24,328.15 697.97,329.34 698.71,330.46 699.44,331.53 700.17,332.55 700.91,333.51 701.64,334.42 702.38,335.27 703.11,336.08 703.84,336.84 704.58,337.55 705.31,338.22 706.04,338.84 706.78,339.42 707.51,339.96 708.24,340.46 708.98,340.93 709.71,341.35 710.45,341.75 711.18,342.1 711.91,342.43 712.65,342.73 713.38,343 714.11,343.25 714.85,343.48 715.58,343.69 716.31,343.88 717.05,344.05 717.78,344.21 718.51,344.36 719.25,344.5 719.98,344.63 720.72,344.76 721.45,344.88 722.18,345.01 722.92,345.13 723.65,345.25 724.38,345.39 725.12,345.56 725.85,345.77 726.58,345.95 727.32,346.1 728.05,346.23 728.79,346.35 729.52,346.45 730.25,346.55 730.99,346.63 731.72,346.7 732.45,346.76 733.19,346.82 733.92,346.87 734.65,346.92 735.39,346.97 736.12,347.02 736.86,347.06 737.59,347.1 738.32,347.14 739.06,347.17 739.79,347.2 740.52,347.22 741.26,347.24" fill="none" stroke="#E24A33" stroke-width="1.6" stroke-linejoin="round"/></g>
<path d="M466.5 190V196M466.5 348V354M509.5 190V196M509.5 348V354M552.5 190V196M552.5 348V354M595.5 190V196M595.5 348V354M639.5 190V196M639.5 348V354M682.5 190V196M682.5 348V354M725.5 190V196M725.5 348V354M768.5 190V196M768.5 348V354M812.5 190V196M812.5 348V354M855.5 190V196M855.5 348V354M460 347.5H466M856 347.5H862M460 330.5H466M856 330.5H862M460 314.5H466M856 314.5H862M460 297.5H466M856 297.5H862M460 280.5H466M856 280.5H862M460 263.5H466M856 263.5H862M460 247.5H466M856 247.5H862M460 230.5H466M856 230.5H862M460 213.5H466M856 213.5H862M460 196.5H466M856 196.5H862" stroke="#505050" stroke-width="1.3" fill="none" transform="translate(0.1,0.1)"/>
<text x="494.8" y="192" font-size="14.7" fill="#1e1e1e" stroke="#1e1e1e" stroke-width="0.08" textLength="47.81" lengthAdjust="spacingAndGlyphs">School</text>
<text x="547.19" y="192" font-size="14.7" fill="#1e1e1e" stroke="#1e1e1e" stroke-width="0.08" textLength="9.16" lengthAdjust="spacingAndGlyphs">3</text>
<text x="560.93" y="192" font-size="14.7" fill="#1e1e1e" stroke="#1e1e1e" stroke-width="0.08" textLength="72.24" lengthAdjust="spacingAndGlyphs">treatment</text>
<text x="637.75" y="192" font-size="14.7" fill="#1e1e1e" stroke="#1e1e1e" stroke-width="0.08" textLength="41.2" lengthAdjust="spacingAndGlyphs">effect</text>
<text x="683.53" y="192" font-size="14.7" fill="#1e1e1e" stroke="#1e1e1e" stroke-width="0.08" textLength="64.61" lengthAdjust="spacingAndGlyphs">posterior</text>
<text x="752.72" y="192" font-size="14.7" fill="#1e1e1e" stroke="#1e1e1e" stroke-width="0.08" textLength="71.69" lengthAdjust="spacingAndGlyphs">predictive</text>
<rect x="50" y="371" width="388" height="149" fill="#E5E5E5"/>
<path d="M92.5 371V520M135.5 371V520M178.5 371V520M221.5 371V520M265.5 371V520M308.5 371V520M351.5 371V520M394.5 371V520M50 504.5H438M50 487.5H438M50 470.5H438M50 453.5H438M50 437.5H438M50 420.5H438M50 403.5H438M50 386.5H438" stroke="#fff" stroke-width="1" fill="none" shape-rendering="crispEdges"/>
<g clip-path="url(#c4)"><polygon points="146.25,520.48 146.25,520.48 146.9,520.48 147.54,520.47 148.18,520.46 148.82,520.44 149.46,520.42 150.11,520.39 150.75,520.36 151.39,520.32 152.03,520.28 152.67,520.23 153.31,520.18 153.96,520.13 154.6,520.07 155.24,520.01 155.88,519.96 156.52,519.89 157.17,519.81 157.81,519.73 158.45,519.64 159.09,519.55 159.73,519.45 160.38,519.35 161.02,519.25 161.66,519.14 162.3,519.02 162.94,518.89 163.59,518.75 164.23,518.6 164.87,518.43 165.51,518.23 166.15,518.01 166.79,517.77 167.44,517.51 168.08,517.23 168.72,516.93 169.36,516.6 170,516.25 170.65,515.88 171.29,515.48 171.93,515.05 172.57,514.59 173.21,514.11 173.86,513.6 174.5,513.06 175.14,512.49 175.78,511.89 176.42,511.25 177.07,510.59 177.71,509.9 178.35,509.18 178.99,508.44 179.63,507.66 180.27,506.87 180.92,506.04 181.56,505.19 182.2,504.32 182.84,503.42 183.48,502.5 184.13,501.55 184.77,500.58 185.41,499.59 186.05,498.59 186.69,497.56 187.34,496.49 187.98,495.29 188.62,493.76 189.26,491.81 189.9,489.53 190.55,487.06 191.19,484.53 191.83,481.97 192.47,479.4 193.11,476.82 193.76,474.24 194.4,471.66 195.04,469.09 195.68,466.53 196.32,463.97 196.96,461.41 197.61,458.86 198.25,456.31 198.89,453.77 199.53,451.24 200.17,448.69 200.82,446.11 201.46,443.48 202.1,440.77 202.74,437.97 203.38,435.05 204.03,432.03 204.67,428.98 205.31,425.97 205.95,423.06 206.59,420.31 207.24,417.78 207.88,415.43 208.52,413.2 209.16,411.02 209.8,408.84 210.44,406.58 211.09,404.19 211.73,401.6 212.37,398.85 213.01,396.05 213.65,393.32 214.3,390.71 214.94,388.24 215.58,385.92 216.22,383.76 216.86,381.76 217.51,379.92 218.15,378.27 218.79,376.79 219.43,375.5 220.07,374.41 220.72,373.52 221.36,372.83 222,372.32 222.64,371.97 223.28,371.79 223.92,371.74 224.57,371.81 225.21,372 225.85,372.28 226.49,372.67 227.13,373.31 227.78,374.32 228.42,375.76 229.06,377.47 229.7,379.23 230.34,380.99 230.99,382.74 231.63,384.51 232.27,386.28 232.91,388.07 233.55,389.87 234.2,391.7 234.84,393.55 235.48,395.44 236.12,397.37 236.76,399.34 237.4,401.37 238.05,403.45 238.69,405.61 239.33,407.85 239.97,410.18 240.61,412.6 241.26,415.12 241.9,417.75 242.54,420.5 243.18,423.38 243.82,426.4 244.47,429.56 245.11,432.89 245.75,436.38 246.39,440.04 247.03,443.8 247.68,447.56 248.32,451.17 248.96,454.46 249.6,457.37 250.24,459.97 250.88,462.36 251.53,464.61 252.17,466.76 252.81,468.86 253.45,470.94 254.09,473.02 254.74,475.09 255.38,477.15 256.02,479.2 256.66,481.22 257.3,483.21 257.95,485.17 258.59,487.09 259.23,488.98 259.87,490.81 260.51,492.59 261.16,494.32 261.8,495.98 262.44,497.58 263.08,499.11 263.72,500.58 264.36,501.98 265.01,503.32 265.65,504.6 266.29,505.81 266.93,506.96 267.57,508.05 268.22,509.08 268.86,510.05 269.5,510.97 270.14,511.82 270.78,512.61 271.43,513.35 272.07,514.02 272.71,514.65 273.35,515.22 273.99,515.74 274.64,516.22 275.28,516.65 275.92,517.04 276.56,517.39 277.2,517.7 277.85,517.97 278.49,518.21 279.13,518.42 279.77,518.59 280.41,518.75 281.05,518.88 281.7,518.99 282.34,519.1 282.98,519.2 283.62,519.3 284.26,519.39 284.91,519.47 285.55,519.54 286.19,519.61 286.83,519.67 287.47,519.72 288.12,519.78 288.76,519.84 289.4,519.89 290.04,519.94 290.68,519.99 291.33,520.03 291.97,520.08 292.61,520.12 293.25,520.15 293.89,520.19 294.53,520.22 295.18,520.25 295.82,520.27 296.46,520.29 297.1,520.31 297.74,520.33 298.39,520.35 299.03,520.37 299.67,520.39 300.31,520.41 300.95,520.43 301.6,520.44 302.24,520.45 302.88,520.46 303.52,520.47 304.16,520.48 304.81,520.48 305.45,520.48 306.09,520.48 306.73,520.48 307.37,520.48 308.01,520.48 308.66,520.48 309.3,520.48 309.94,520.48 310.58,520.48 311.22,520.48 311.87,520.48 312.51,520.48 312.51,520.48" fill="#E24A33" fill-opacity="0.25"/><polyline points="146.25,520.48 146.9,520.48 147.54,520.47 148.18,520.46 148.82,520.44 149.46,520.42 150.11,520.39 150.75,520.36 151.39,520.32 152.03,520.28 152.67,520.23 153.31,520.18 153.96,520.13 154.6,520.07 155.24,520.01 155.88,519.96 156.52,519.89 157.17,519.81 157.81,519.73 158.45,519.64 159.09,519.55 159.73,519.45 160.38,519.35 161.02,519.25 161.66,519.14 162.3,519.02 162.94,518.89 163.59,518.75 164.23,518.6 164.87,518.43 165.51,518.23 166.15,518.01 166.79,517.77 167.44,517.51 168.08,517.23 168.72,516.93 169.36,516.6 170,516.25 170.65,515.88 171.29,515.48 171.93,515.05 172.57,514.59 173.21,514.11 173.86,513.6 174.5,513.06 175.14,512.49 175.78,511.89 176.42,511.25 177.07,510.59 177.71,509.9 178.35,509.18 178.99,508.44 179.63,507.66 180.27,506.87 180.92,506.04 181.56,505.19 182.2,504.32 182.84,503.42 183.48,502.5 184.13,501.55 184.77,500.58 185.41,499.59 186.05,498.59 186.69,497.56 187.34,496.49 187.98,495.29 188.62,493.76 189.26,491.81 189.9,489.53 190.55,487.06 191.19,484.53 191.83,481.97 192.47,479.4 193.11,476.82 193.76,474.24 194.4,471.66 195.04,469.09 195.68,466.53 196.32,463.97 196.96,461.41 197.61,458.86 198.25,456.31 198.89,453.77 199.53,451.24 200.17,448.69 200.82,446.11 201.46,443.48 202.1,440.77 202.74,437.97 203.38,435.05 204.03,432.03 204.67,428.98 205.31,425.97 205.95,423.06 206.59,420.31 207.24,417.78 207.88,415.43 208.52,413.2 209.16,411.02 209.8,408.84 210.44,406.58 211.09,404.19 211.73,401.6 212.37,398.85 213.01,396.05 213.65,393.32 214.3,390.71 214.94,388.24 215.58,385.92 216.22,383.76 216.86,381.76 217.51,379.92 218.15,378.27 218.79,376.79 219.43,375.5 220.07,374.41 220.72,373.52 221.36,372.83 222,372.32 222.64,371.97 223.28,371.79 223.92,371.74 224.57,371.81 225.21,372 225.85,372.28 226.49,372.67 227.13,373.31 227.78,374.32 228.42,375.76 229.06,377.47 229.7,379.23 230.34,380.99 230.99,382.74 231.63,384.51 232.27,386.28 232.91,388.07 233.55,389.87 234.2,391.7 234.84,393.55 235.48,395.44 236.12,397.37 236.76,399.34 237.4,401.37 238.05,403.45 238.69,405.61 239.33,407.85 239.97,410.18 240.61,412.6 241.26,415.12 241.9,417.75 242.54,420.5 243.18,423.38 243.82,426.4 244.47,429.56 245.11,432.89 245.75,436.38 246.39,440.04 247.03,443.8 247.68,447.56 248.32,451.17 248.96,454.46 249.6,457.37 250.24,459.97 250.88,462.36 251.53,464.61 252.17,466.76 252.81,468.86 253.45,470.94 254.09,473.02 254.74,475.09 255.38,477.15 256.02,479.2 256.66,481.22 257.3,483.21 257.95,485.17 258.59,487.09 259.23,488.98 259.87,490.81 260.51,492.59 261.16,494.32 261.8,495.98 262.44,497.58 263.08,499.11 263.72,500.58 264.36,501.98 265.01,503.32 265.65,504.6 266.29,505.81 266.93,506.96 267.57,508.05 268.22,509.08 268.86,510.05 269.5,510.97 270.14,511.82 270.78,512.61 271.43,513.35 272.07,514.02 272.71,514.65 273.35,515.22 273.99,515.74 274.64,516.22 275.28,516.65 275.92,517.04 276.56,517.39 277.2,517.7 277.85,517.97 278.49,518.21 279.13,518.42 279.77,518.59 280.41,518.75 281.05,518.88 281.7,518.99 282.34,519.1 282.98,519.2 283.62,519.3 284.26,519.39 284.91,519.47 285.55,519.54 286.19,519.61 286.83,519.67 287.47,519.72 288.12,519.78 288.76,519.84 289.4,519.89 290.04,519.94 290.68,519.99 291.33,520.03 291.97,520.08 292.61,520.12 293.25,520.15 293.89,520.19 294.53,520.22 295.18,520.25 295.82,520.27 296.46,520.29 297.1,520.31 297.74,520.33 298.39,520.35 299.03,520.37 299.67,520.39 300.31,520.41 300.95,520.43 301.6,520.44 302.24,520.45 302.88,520.46 303.52,520.47 304.16,520.48 304.81,520.48 305.45,520.48 306.09,520.48 306.73,520.48 307.37,520.48 308.01,520.48 308.66,520.48 309.3,520.48 309.94,520.48 310.58,520.48 311.22,520.48 311.87,520.48 312.51,520.48" fill="none" stroke="#E24A33" stroke-width="1.6" stroke-linejoin="round"/></g>
<text x="8.399999999999999" y="524" font-size="10.2" fill="#555555" stroke="#555555" stroke-width="0.05" textLength="29.5" lengthAdjust="spacingAndGlyphs">0.000</text>
<text x="8.399999999999999" y="507" font-size="10.2" fill="#555555" stroke="#555555" stroke-width="0.05" textLength="29.5" lengthAdjust="spacingAndGlyphs">0.005</text>
<text x="8.399999999999999" y="490" font-size="10.2" fill="#555555" stroke="#555555" stroke-width="0.05" textLength="29.5" lengthAdjust="spacingAndGlyphs">0.010</text>
<text x="8.399999999999999" y="473" font-size="10.2" fill="#555555" stroke="#555555" stroke-width="0.05" textLength="29.5" lengthAdjust="spacingAndGlyphs">0.015</text>
<text x="8.399999999999999" y="457" font-size="10.2" fill="#555555" stroke="#555555" stroke-width="0.05" textLength="29.5" lengthAdjust="spacingAndGlyphs">0.020</text>
<text x="8.399999999999999" y="440" font-size="10.2" fill="#555555" stroke="#555555" stroke-width="0.05" textLength="29.5" lengthAdjust="spacingAndGlyphs">0.025</text>
<text x="8.399999999999999" y="423" font-size="10.2" fill="#555555" stroke="#555555" stroke-width="0.05" textLength="29.5" lengthAdjust="spacingAndGlyphs">0.030</text>
<text x="8.399999999999999" y="406" font-size="10.2" fill="#555555" stroke="#555555" stroke-width="0.05" textLength="29.5" lengthAdjust="spacingAndGlyphs">0.035</text>
<text x="8.399999999999999" y="390" font-size="10.2" fill="#555555" stroke="#555555" stroke-width="0.05" textLength="29.5" lengthAdjust="spacingAndGlyphs">0.040</text>
<text x="8.399999999999999" y="373" font-size="10.2" fill="#555555" stroke="#555555" stroke-width="0.05" textLength="29.5" lengthAdjust="spacingAndGlyphs">0.045</text>
<path d="M49.5 364V370M49.5 521V527M92.5 364V370M92.5 521V527M135.5 364V370M135.5 521V527M178.5 364V370M178.5 521V527M221.5 364V370M221.5 521V527M265.5 364V370M265.5 521V527M308.5 364V370M308.5 521V527M351.5 364V370M351.5 521V527M394.5 364V370M394.5 521V527M438.5 364V370M438.5 521V527M43 520.5H49M439 520.5H445M43 504.5H49M439 504.5H445M43 487.5H49M439 487.5H445M43 470.5H49M439 470.5H445M43 453.5H49M439 453.5H445M43 437.5H49M439 437.5H445M43 420.5H49M439 420.5H445M43 403.5H49M439 403.5H445M43 386.5H49M439 386.5H445M43 370.5H49M439 370.5H445" stroke="#505050" stroke-width="1.3" fill="none" transform="translate(0.1,0.1)"/>
<text x="77.8" y="365" font-size="14.7" fill="#1e1e1e" stroke="#1e1e1e" stroke-width="0.08" textLength="47.81" lengthAdjust="spacingAndGlyphs">School</text>
<text x="130.19" y="365" font-size="14.7" fill="#1e1e1e" stroke="#1e1e1e" stroke-width="0.08" textLength="9.16" lengthAdjust="spacingAndGlyphs">4</text>
<text x="143.93" y="365" font-size="14.7" fill="#1e1e1e" stroke="#1e1e1e" stroke-width="0.08" textLength="72.24" lengthAdjust="spacingAndGlyphs">treatment</text>
<text x="220.75" y="365" font-size="14.7" fill="#1e1e1e" stroke="#1e1e1e" stroke-width="0.08" textLength="41.2" lengthAdjust="spacingAndGlyphs">effect</text>
<text x="266.53" y="365" font-size="14.7" fill="#1e1e1e" stroke="#1e1e1e" stroke-width="0.08" textLength="64.61" lengthAdjust="spacingAndGlyphs">posterior</text>
<text x="335.72" y="365" font-size="14.7" fill="#1e1e1e" stroke="#1e1e1e" stroke-width="0.08" textLength="71.69" lengthAdjust="spacingAndGlyphs">predictive</text>
<rect x="467" y="371" width="388" height="149" fill="#E5E5E5"/>
<path d="M509.5 371V520M552.5 371V520M595.5 371V520M639.5 371V520M682.5 371V520M725.5 371V520M768.5 371V520M812.5 371V520M467 504.5H855M467 487.5H855M467 470.5H855M467 453.5H855M467 437.5H855M467 420.5H855M467 403.5H855M467 386.5H855" stroke="#fff" stroke-width="1" fill="none" shape-rendering="crispEdges"/>
<g clip-path="url(#c5)"><polygon points="544.51,520.48 544.51,520.48 545.3,520.48 546.09,520.47 546.88,520.46 547.68,520.45 548.47,520.43 549.26,520.41 550.05,520.39 550.84,520.36 551.63,520.33 552.43,520.29 553.22,520.25 554.01,520.21 554.8,520.17 555.59,520.12 556.38,520.07 557.17,520.01 557.97,519.95 558.76,519.89 559.55,519.83 560.34,519.76 561.13,519.68 561.92,519.59 562.72,519.5 563.51,519.4 564.3,519.3 565.09,519.2 565.88,519.09 566.67,518.98 567.47,518.86 568.26,518.74 569.05,518.61 569.84,518.47 570.63,518.33 571.42,518.17 572.22,518.01 573.01,517.83 573.8,517.65 574.59,517.46 575.38,517.25 576.17,517.04 576.96,516.82 577.76,516.59 578.55,516.34 579.34,516.07 580.13,515.79 580.92,515.5 581.71,515.19 582.51,514.85 583.3,514.5 584.09,514.13 584.88,513.74 585.67,513.32 586.46,512.88 587.26,512.41 588.05,511.92 588.84,511.4 589.63,510.86 590.42,510.28 591.21,509.68 592.01,509.04 592.8,508.37 593.59,507.65 594.38,506.9 595.17,506.1 595.96,505.24 596.75,504.33 597.55,503.36 598.34,502.33 599.13,501.24 599.92,500.07 600.71,498.83 601.5,497.51 602.3,496.11 603.09,494.62 603.88,493.05 604.67,491.38 605.46,489.64 606.25,487.82 607.05,485.94 607.84,484 608.63,482.02 609.42,479.99 610.21,477.94 611,475.86 611.8,473.77 612.59,471.67 613.38,469.58 614.17,467.49 614.96,465.4 615.75,463.32 616.54,461.23 617.34,459.14 618.13,457.05 618.92,454.95 619.71,452.84 620.5,450.69 621.29,448.41 622.09,445.94 622.88,443.19 623.67,440.23 624.46,437.14 625.25,434.02 626.04,430.97 626.84,428.07 627.63,425.41 628.42,422.98 629.21,420.78 630,418.8 630.79,417.03 631.59,415.45 632.38,414.04 633.17,412.8 633.96,411.71 634.75,410.74 635.54,409.9 636.33,409.15 637.13,408.5 637.92,407.91 638.71,407.39 639.5,406.93 640.29,406.54 641.08,406.21 641.88,405.95 642.67,405.76 643.46,405.64 644.25,405.6 645.04,405.64 645.83,405.75 646.63,405.95 647.42,406.23 648.21,406.6 649,407.06 649.79,407.61 650.58,408.25 651.38,409 652.17,409.85 652.96,410.8 653.75,411.86 654.54,413.04 655.33,414.34 656.12,415.75 656.92,417.28 657.71,418.92 658.5,420.66 659.29,422.47 660.08,424.34 660.87,426.25 661.67,428.19 662.46,430.13 663.25,432.07 664.04,433.99 664.83,435.89 665.62,437.78 666.42,439.67 667.21,441.55 668,443.44 668.79,445.33 669.58,447.24 670.37,449.17 671.17,451.12 671.96,453.11 672.75,455.13 673.54,457.19 674.33,459.28 675.12,461.41 675.92,463.58 676.71,465.79 677.5,468.04 678.29,470.32 679.08,472.65 679.87,475.01 680.66,477.42 681.46,479.86 682.25,482.3 683.04,484.65 683.83,486.8 684.62,488.67 685.41,490.27 686.21,491.65 687,492.85 687.79,493.92 688.58,494.89 689.37,495.81 690.16,496.69 690.96,497.58 691.75,498.5 692.54,499.45 693.33,500.43 694.12,501.44 694.91,502.47 695.71,503.51 696.5,504.56 697.29,505.6 698.08,506.64 698.87,507.66 699.66,508.66 700.45,509.63 701.25,510.56 702.04,511.45 702.83,512.3 703.62,513.09 704.41,513.82 705.2,514.49 706,515.1 706.79,515.66 707.58,516.16 708.37,516.62 709.16,517.03 709.95,517.4 710.75,517.73 711.54,518.02 712.33,518.27 713.12,518.49 713.91,518.67 714.7,518.83 715.5,518.96 716.29,519.08 717.08,519.19 717.87,519.29 718.66,519.38 719.45,519.45 720.24,519.52 721.04,519.58 721.83,519.64 722.62,519.69 723.41,519.75 724.2,519.8 724.99,519.85 725.79,519.9 726.58,519.94 727.37,519.99 728.16,520.02 728.95,520.06 729.74,520.09 730.54,520.12 731.33,520.14 732.12,520.16 732.91,520.17 733.7,520.19 734.49,520.2 735.29,520.21 736.08,520.23 736.87,520.24 737.66,520.25 738.45,520.26 739.24,520.27 740.03,520.28 740.83,520.3 741.62,520.31 742.41,520.32 743.2,520.34 743.99,520.35 744.78,520.37 745.58,520.39 746.37,520.41 747.16,520.42 747.95,520.44 748.74,520.46 749.53,520.48 749.53,520.48" fill="#E24A33" fill-opacity="0.25"/><polyline points="544.51,520.48 545.3,520.48 546.09,520.47 546.88,520.46 547.68,520.45 548.47,520.43 549.26,520.41 550.05,520.39 550.84,520.36 551.63,520.33 552.43,520.29 553.22,520.25 554.01,520.21 554.8,520.17 555.59,520.12 556.38,520.07 557.17,520.01 557.97,519.95 558.76,519.89 559.55,519.83 560.34,519.76 561.13,519.68 561.92,519.59 562.72,519.5 563.51,519.4 564.3,519.3 565.09,519.2 565.88,519.09 566.67,518.98 567.47,518.86 568.26,518.74 569.05,518.61 569.84,518.47 570.63,518.33 571.42,518.17 572.22,518.01 573.01,517.83 573.8,517.65 574.59,517.46 575.38,517.25 576.17,517.04 576.96,516.82 577.76,516.59 578.55,516.34 579.34,516.07 580.13,515.79 580.92,515.5 581.71,515.19 582.51,514.85 583.3,514.5 584.09,514.13 584.88,513.74 585.67,513.32 586.46,512.88 587.26,512.41 588.05,511.92 588.84,511.4 589.63,510.86 590.42,510.28 591.21,509.68 592.01,509.04 592.8,508.37 593.59,507.65 594.38,506.9 595.17,506.1 595.96,505.24 596.75,504.33 597.55,503.36 598.34,502.33 599.13,501.24 599.92,500.07 600.71,498.83 601.5,497.51 602.3,496.11 603.09,494.62 603.88,493.05 604.67,491.38 605.46,489.64 606.25,487.82 607.05,485.94 607.84,484 608.63,482.02 609.42,479.99 610.21,477.94 611,475.86 611.8,473.77 612.59,471.67 613.38,469.58 614.17,467.49 614.96,465.4 615.75,463.32 616.54,461.23 617.34,459.14 618.13,457.05 618.92,454.95 619.71,452.84 620.5,450.69 621.29,448.41 622.09,445.94 622.88,443.19 623.67,440.23 624.46,437.14 625.25,434.02 626.04,430.97 626.84,428.07 627.63,425.41 628.42,422.98 629.21,420.78 630,418.8 630.79,417.03 631.59,415.45 632.38,414.04 633.17,412.8 633.96,411.71 634.75,410.74 635.54,409.9 636.33,409.15 637.13,408.5 637.92,407.91 638.71,407.39 639.5,406.93 640.29,406.54 641.08,406.21 641.88,405.95 642.67,405.76 643.46,405.64 644.25,405.6 645.04,405.64 645.83,405.75 646.63,405.95 647.42,406.23 648.21,406.6 649,407.06 649.79,407.61 650.58,408.25 651.38,409 652.17,409.85 652.96,410.8 653.75,411.86 654.54,413.04 655.33,414.34 656.12,415.75 656.92,417.28 657.71,418.92 658.5,420.66 659.29,422.47 660.08,424.34 660.87,426.25 661.67,428.19 662.46,430.13 663.25,432.07 664.04,433.99 664.83,435.89 665.62,437.78 666.42,439.67 667.21,441.55 668,443.44 668.79,445.33 669.58,447.24 670.37,449.17 671.17,451.12 671.96,453.11 672.75,455.13 673.54,457.19 674.33,459.28 675.12,461.41 675.92,463.58 676.71,465.79 677.5,468.04 678.29,470.32 679.08,472.65 679.87,475.01 680.66,477.42 681.46,479.86 682.25,482.3 683.04,484.65 683.83,486.8 684.62,488.67 685.41,490.27 686.21,491.65 687,492.85 687.79,493.92 688.58,494.89 689.37,495.81 690.16,496.69 690.96,497.58 691.75,498.5 692.54,499.45 693.33,500.43 694.12,501.44 694.91,502.47 695.71,503.51 696.5,504.56 697.29,505.6 698.08,506.64 698.87,507.66 699.66,508.66 700.45,509.63 701.25,510.56 702.04,511.45 702.83,512.3 703.62,513.09 704.41,513.82 705.2,514.49 706,515.1 706.79,515.66 707.58,516.16 708.37,516.62 709.16,517.03 709.95,517.4 710.75,517.73 711.54,518.02 712.33,518.27 713.12,518.49 713.91,518.67 714.7,518.83 715.5,518.96 716.29,519.08 717.08,519.19 717.87,519.29 718.66,519.38 719.45,519.45 720.24,519.52 721.04,519.58 721.83,519.64 722.62,519.69 723.41,519.75 724.2,519.8 724.99,519.85 725.79,519.9 726.58,519.94 727.37,519.99 728.16,520.02 728.95,520.06 729.74,520.09 730.54,520.12 731.33,520.14 732.12,520.16 732.91,520.17 733.7,520.19 734.49,520.2 735.29,520.21 736.08,520.23 736.87,520.24 737.66,520.25 738.45,520.26 739.24,520.27 740.03,520.28 740.83,520.3 741.62,520.31 742.41,520.32 743.2,520.34 743.99,520.35 744.78,520.37 745.58,520.39 746.37,520.41 747.16,520.42 747.95,520.44 748.74,520.46 749.53,520.48" fill="none" stroke="#E24A33" stroke-width="1.6" stroke-linejoin="round"/></g>
<path d="M466.5 364V370M466.5 521V527M509.5 364V370M509.5 521V527M552.5 364V370M552.5 521V527M595.5 364V370M595.5 521V527M639.5 364V370M639.5 521V527M682.5 364V370M682.5 521V527M725.5 364V370M725.5 521V527M768.5 364V370M768.5 521V527M812.5 364V370M812.5 521V527M855.5 364V370M855.5 521V527M460 520.5H466M856 520.5H862M460 504.5H466M856 504.5H862M460 487.5H466M856 487.5H862M460 470.5H466M856 470.5H862M460 453.5H466M856 453.5H862M460 437.5H466M856 437.5H862M460 420.5H466M856 420.5H862M460 403.5H466M856 403.5H862M460 386.5H466M856 386.5H862M460 370.5H466M856 370.5H862" stroke="#505050" stroke-width="1.3" fill="none" transform="translate(0.1,0.1)"/>
<text x="494.8" y="365" font-size="14.7" fill="#1e1e1e" stroke="#1e1e1e" stroke-width="0.08" textLength="47.81" lengthAdjust="spacingAndGlyphs">School</text>
<text x="547.19" y="365" font-size="14.7" fill="#1e1e1e" stroke="#1e1e1e" stroke-width="0.08" textLength="9.16" lengthAdjust="spacingAndGlyphs">5</text>
<text x="560.93" y="365" font-size="14.7" fill="#1e1e1e" stroke="#1e1e1e" stroke-width="0.08" textLength="72.24" lengthAdjust="spacingAndGlyphs">treatment</text>
<text x="637.75" y="365" font-size="14.7" fill="#1e1e1e" stroke="#1e1e1e" stroke-width="0.08" textLength="41.2" lengthAdjust="spacingAndGlyphs">effect</text>
<text x="683.53" y="365" font-size="14.7" fill="#1e1e1e" stroke="#1e1e1e" stroke-width="0.08" textLength="64.61" lengthAdjust="spacingAndGlyphs">posterior</text>
<text x="752.72" y="365" font-size="14.7" fill="#1e1e1e" stroke="#1e1e1e" stroke-width="0.08" textLength="71.69" lengthAdjust="spacingAndGlyphs">predictive</text>
<rect x="50" y="544" width="388" height="150" fill="#E5E5E5"/>
<path d="M92.5 544V694M135.5 544V694M178.5 544V694M221.5 544V694M265.5 544V694M308.5 544V694M351.5 544V694M394.5 544V694M50 677.5H438M50 660.5H438M50 644.5H438M50 627.5H438M50 610.5H438M50 593.5H438M50 576.5H438M50 560.5H438" stroke="#fff" stroke-width="1" fill="none" shape-rendering="crispEdges"/>
<g clip-path="url(#c6)"><polygon points="155.5,693.86 155.5,693.86 156.26,693.85 157.02,693.84 157.79,693.83 158.55,693.82 159.31,693.81 160.07,693.79 160.83,693.78 161.59,693.76 162.35,693.74 163.11,693.72 163.87,693.7 164.63,693.68 165.39,693.66 166.15,693.63 166.91,693.61 167.67,693.58 168.43,693.55 169.19,693.52 169.96,693.48 170.72,693.45 171.48,693.41 172.24,693.37 173,693.32 173.76,693.27 174.52,693.22 175.28,693.15 176.04,693.08 176.8,692.99 177.56,692.9 178.32,692.8 179.08,692.69 179.84,692.57 180.6,692.44 181.37,692.3 182.13,692.14 182.89,691.97 183.65,691.79 184.41,691.59 185.17,691.38 185.93,691.16 186.69,690.91 187.45,690.64 188.21,690.34 188.97,690.01 189.73,689.64 190.49,689.22 191.25,688.75 192.01,688.23 192.77,687.65 193.54,687 194.3,686.28 195.06,685.5 195.82,684.7 196.58,683.91 197.34,683.15 198.1,682.48 198.86,681.87 199.62,681.29 200.38,680.73 201.14,680.13 201.9,679.49 202.66,678.75 203.42,677.9 204.18,676.89 204.95,675.73 205.71,674.4 206.47,672.92 207.23,671.28 207.99,669.5 208.75,667.58 209.51,665.52 210.27,663.33 211.03,661.04 211.79,658.67 212.55,656.24 213.31,653.78 214.07,651.3 214.83,648.82 215.59,646.38 216.35,643.98 217.12,641.65 217.88,639.39 218.64,637.15 219.4,634.93 220.16,632.7 220.92,630.43 221.68,628.11 222.44,625.69 223.2,623.17 223.96,620.52 224.72,617.71 225.48,614.72 226.24,611.53 227,608.11 227.76,604.52 228.53,600.82 229.29,597.07 230.05,593.35 230.81,589.72 231.57,586.26 232.33,583.02 233.09,580.06 233.85,577.37 234.61,574.95 235.37,572.79 236.13,570.89 236.89,569.23 237.65,567.82 238.41,566.65 239.17,565.7 239.93,564.98 240.7,564.48 241.46,564.16 242.22,564.02 242.98,564.02 243.74,564.14 244.5,564.36 245.26,564.66 246.02,565.01 246.78,565.38 247.54,565.76 248.3,566.12 249.06,566.48 249.82,566.87 250.58,567.33 251.34,567.9 252.11,568.61 252.87,569.49 253.63,570.6 254.39,571.91 255.15,573.39 255.91,574.98 256.67,576.65 257.43,578.35 258.19,580.04 258.95,581.66 259.71,583.23 260.47,584.77 261.23,586.32 261.99,587.91 262.75,589.58 263.51,591.37 264.28,593.29 265.04,595.41 265.8,597.75 266.56,600.38 267.32,603.28 268.08,606.39 268.84,609.65 269.6,613 270.36,616.4 271.12,619.79 271.88,623.1 272.64,626.28 273.4,629.28 274.16,632.1 274.92,634.78 275.69,637.34 276.45,639.82 277.21,642.26 277.97,644.68 278.73,647.09 279.49,649.47 280.25,651.8 281.01,654.04 281.77,656.2 282.53,658.26 283.29,660.24 284.05,662.13 284.81,663.94 285.57,665.66 286.33,667.31 287.09,668.87 287.86,670.36 288.62,671.76 289.38,673.1 290.14,674.36 290.9,675.54 291.66,676.66 292.42,677.71 293.18,678.69 293.94,679.61 294.7,680.47 295.46,681.29 296.22,682.05 296.98,682.78 297.74,683.48 298.5,684.14 299.27,684.78 300.03,685.41 300.79,686.02 301.55,686.62 302.31,687.22 303.07,687.8 303.83,688.36 304.59,688.89 305.35,689.38 306.11,689.82 306.87,690.23 307.63,690.6 308.39,690.93 309.15,691.23 309.91,691.49 310.67,691.72 311.44,691.92 312.2,692.08 312.96,692.23 313.72,692.35 314.48,692.45 315.24,692.54 316,692.62 316.76,692.69 317.52,692.76 318.28,692.82 319.04,692.88 319.8,692.94 320.56,693 321.32,693.05 322.08,693.1 322.85,693.15 323.61,693.2 324.37,693.25 325.13,693.3 325.89,693.35 326.65,693.39 327.41,693.44 328.17,693.48 328.93,693.51 329.69,693.55 330.45,693.58 331.21,693.61 331.97,693.64 332.73,693.67 333.49,693.7 334.25,693.72 335.02,693.75 335.78,693.77 336.54,693.79 337.3,693.81 338.06,693.83 338.82,693.84 339.58,693.85 340.34,693.86 341.1,693.86 341.86,693.86 342.62,693.86 343.38,693.86 344.14,693.86 344.9,693.86 345.66,693.86 346.43,693.86 347.19,693.86 347.95,693.86 348.71,693.86 349.47,693.86 350.23,693.86 350.99,693.86 351.75,693.86 352.51,693.86 352.51,693.86" fill="#E24A33" fill-opacity="0.25"/><polyline points="155.5,693.86 156.26,693.85 157.02,693.84 157.79,693.83 158.55,693.82 159.31,693.81 160.07,693.79 160.83,693.78 161.59,693.76 162.35,693.74 163.11,693.72 163.87,693.7 164.63,693.68 165.39,693.66 166.15,693.63 166.91,693.61 167.67,693.58 168.43,693.55 169.19,693.52 169.96,693.48 170.72,693.45 171.48,693.41 172.24,693.37 173,693.32 173.76,693.27 174.52,693.22 175.28,693.15 176.04,693.08 176.8,692.99 177.56,692.9 178.32,692.8 179.08,692.69 179.84,692.57 180.6,692.44 181.37,692.3 182.13,692.14 182.89,691.97 183.65,691.79 184.41,691.59 185.17,691.38 185.93,691.16 186.69,690.91 187.45,690.64 188.21,690.34 188.97,690.01 189.73,689.64 190.49,689.22 191.25,688.75 192.01,688.23 192.77,687.65 193.54,687 194.3,686.28 195.06,685.5 195.82,684.7 196.58,683.91 197.34,683.15 198.1,682.48 198.86,681.87 199.62,681.29 200.38,680.73 201.14,680.13 201.9,679.49 202.66,678.75 203.42,677.9 204.18,676.89 204.95,675.73 205.71,674.4 206.47,672.92 207.23,671.28 207.99,669.5 208.75,667.58 209.51,665.52 210.27,663.33 211.03,661.04 211.79,658.67 212.55,656.24 213.31,653.78 214.07,651.3 214.83,648.82 215.59,646.38 216.35,643.98 217.12,641.65 217.88,639.39 218.64,637.15 219.4,634.93 220.16,632.7 220.92,630.43 221.68,628.11 222.44,625.69 223.2,623.17 223.96,620.52 224.72,617.71 225.48,614.72 226.24,611.53 227,608.11 227.76,604.52 228.53,600.82 229.29,597.07 230.05,593.35 230.81,589.72 231.57,586.26 232.33,583.02 233.09,580.06 233.85,577.37 234.61,574.95 235.37,572.79 236.13,570.89 236.89,569.23 237.65,567.82 238.41,566.65 239.17,565.7 239.93,564.98 240.7,564.48 241.46,564.16 242.22,564.02 242.98,564.02 243.74,564.14 244.5,564.36 245.26,564.66 246.02,565.01 246.78,565.38 247.54,565.76 248.3,566.12 249.06,566.48 249.82,566.87 250.58,567.33 251.34,567.9 252.11,568.61 252.87,569.49 253.63,570.6 254.39,571.91 255.15,573.39 255.91,574.98 256.67,576.65 257.43,578.35 258.19,580.04 258.95,581.66 259.71,583.23 260.47,584.77 261.23,586.32 261.99,587.91 262.75,589.58 263.51,591.37 264.28,593.29 265.04,595.41 265.8,597.75 266.56,600.38 267.32,603.28 268.08,606.39 268.84,609.65 269.6,613 270.36,616.4 271.12,619.79 271.88,623.1 272.64,626.28 273.4,629.28 274.16,632.1 274.92,634.78 275.69,637.34 276.45,639.82 277.21,642.26 277.97,644.68 278.73,647.09 279.49,649.47 280.25,651.8 281.01,654.04 281.77,656.2 282.53,658.26 283.29,660.24 284.05,662.13 284.81,663.94 285.57,665.66 286.33,667.31 287.09,668.87 287.86,670.36 288.62,671.76 289.38,673.1 290.14,674.36 290.9,675.54 291.66,676.66 292.42,677.71 293.18,678.69 293.94,679.61 294.7,680.47 295.46,681.29 296.22,682.05 296.98,682.78 297.74,683.48 298.5,684.14 299.27,684.78 300.03,685.41 300.79,686.02 301.55,686.62 302.31,687.22 303.07,687.8 303.83,688.36 304.59,688.89 305.35,689.38 306.11,689.82 306.87,690.23 307.63,690.6 308.39,690.93 309.15,691.23 309.91,691.49 310.67,691.72 311.44,691.92 312.2,692.08 312.96,692.23 313.72,692.35 314.48,692.45 315.24,692.54 316,692.62 316.76,692.69 317.52,692.76 318.28,692.82 319.04,692.88 319.8,692.94 320.56,693 321.32,693.05 322.08,693.1 322.85,693.15 323.61,693.2 324.37,693.25 325.13,693.3 325.89,693.35 326.65,693.39 327.41,693.44 328.17,693.48 328.93,693.51 329.69,693.55 330.45,693.58 331.21,693.61 331.97,693.64 332.73,693.67 333.49,693.7 334.25,693.72 335.02,693.75 335.78,693.77 336.54,693.79 337.3,693.81 338.06,693.83 338.82,693.84 339.58,693.85 340.34,693.86 341.1,693.86 341.86,693.86 342.62,693.86 343.38,693.86 344.14,693.86 344.9,693.86 345.66,693.86 346.43,693.86 347.19,693.86 347.95,693.86 348.71,693.86 349.47,693.86 350.23,693.86 350.99,693.86 351.75,693.86 352.51,693.86" fill="none" stroke="#E24A33" stroke-width="1.6" stroke-linejoin="round"/></g>
<text x="8.399999999999999" y="697" font-size="10.2" fill="#555555" stroke="#555555" stroke-width="0.05" textLength="29.5" lengthAdjust="spacingAndGlyphs">0.000</text>
<text x="8.399999999999999" y="680" font-size="10.2" fill="#555555" stroke="#555555" stroke-width="0.05" textLength="29.5" lengthAdjust="spacingAndGlyphs">0.005</text>
<text x="8.399999999999999" y="664" font-size="10.2" fill="#555555" stroke="#555555" stroke-width="0.05" textLength="29.5" lengthAdjust="spacingAndGlyphs">0.010</text>
<text x="8.399999999999999" y="647" font-size="10.2" fill="#555555" stroke="#555555" stroke-width="0.05" textLength="29.5" lengthAdjust="spacingAndGlyphs">0.015</text>
<text x="8.399999999999999" y="630" font-size="10.2" fill="#555555" stroke="#555555" stroke-width="0.05" textLength="29.5" lengthAdjust="spacingAndGlyphs">0.020</text>
<text x="8.399999999999999" y="613" font-size="10.2" fill="#555555" stroke="#555555" stroke-width="0.05" textLength="29.5" lengthAdjust="spacingAndGlyphs">0.025</text>
<text x="8.399999999999999" y="596" font-size="10.2" fill="#555555" stroke="#555555" stroke-width="0.05" textLength="29.5" lengthAdjust="spacingAndGlyphs">0.030</text>
<text x="8.399999999999999" y="580" font-size="10.2" fill="#555555" stroke="#555555" stroke-width="0.05" textLength="29.5" lengthAdjust="spacingAndGlyphs">0.035</text>
<text x="8.399999999999999" y="563" font-size="10.2" fill="#555555" stroke="#555555" stroke-width="0.05" textLength="29.5" lengthAdjust="spacingAndGlyphs">0.040</text>
<text x="8.399999999999999" y="546" font-size="10.2" fill="#555555" stroke="#555555" stroke-width="0.05" textLength="29.5" lengthAdjust="spacingAndGlyphs">0.045</text>
<path d="M49.5 537V543M49.5 695V701M92.5 537V543M92.5 695V701M135.5 537V543M135.5 695V701M178.5 537V543M178.5 695V701M221.5 537V543M221.5 695V701M265.5 537V543M265.5 695V701M308.5 537V543M308.5 695V701M351.5 537V543M351.5 695V701M394.5 537V543M394.5 695V701M438.5 537V543M438.5 695V701M43 694.5H49M439 694.5H445M43 677.5H49M439 677.5H445M43 660.5H49M439 660.5H445M43 644.5H49M439 644.5H445M43 627.5H49M439 627.5H445M43 610.5H49M439 610.5H445M43 593.5H49M439 593.5H445M43 576.5H49M439 576.5H445M43 560.5H49M439 560.5H445M43 543.5H49M439 543.5H445" stroke="#505050" stroke-width="1.3" fill="none" transform="translate(0.1,0.1)"/>
<text x="77.8" y="538" font-size="14.7" fill="#1e1e1e" stroke="#1e1e1e" stroke-width="0.08" textLength="47.81" lengthAdjust="spacingAndGlyphs">School</text>
<text x="130.19" y="538" font-size="14.7" fill="#1e1e1e" stroke="#1e1e1e" stroke-width="0.08" textLength="9.16" lengthAdjust="spacingAndGlyphs">6</text>
<text x="143.93" y="538" font-size="14.7" fill="#1e1e1e" stroke="#1e1e1e" stroke-width="0.08" textLength="72.24" lengthAdjust="spacingAndGlyphs">treatment</text>
<text x="220.75" y="538" font-size="14.7" fill="#1e1e1e" stroke="#1e1e1e" stroke-width="0.08" textLength="41.2" lengthAdjust="spacingAndGlyphs">effect</text>
<text x="266.53" y="538" font-size="14.7" fill="#1e1e1e" stroke="#1e1e1e" stroke-width="0.08" textLength="64.61" lengthAdjust="spacingAndGlyphs">posterior</text>
<text x="335.72" y="538" font-size="14.7" fill="#1e1e1e" stroke="#1e1e1e" stroke-width="0.08" textLength="71.69" lengthAdjust="spacingAndGlyphs">predictive</text>
<text x="38.4" y="712" font-size="10.2" fill="#555555" stroke="#555555" stroke-width="0.05" textLength="21.1" lengthAdjust="spacingAndGlyphs">−80</text>
<text x="81.62" y="712" font-size="10.2" fill="#555555" stroke="#555555" stroke-width="0.05" textLength="21.1" lengthAdjust="spacingAndGlyphs">−60</text>
<text x="124.84" y="712" font-size="10.2" fill="#555555" stroke="#555555" stroke-width="0.05" textLength="21.1" lengthAdjust="spacingAndGlyphs">−40</text>
<text x="168.07" y="712" font-size="10.2" fill="#555555" stroke="#555555" stroke-width="0.05" textLength="21.1" lengthAdjust="spacingAndGlyphs">−20</text>
<text x="218.66" y="712" font-size="10.2" fill="#555555" stroke="#555555" stroke-width="0.05" textLength="6.36" lengthAdjust="spacingAndGlyphs">0</text>
<text x="258.7" y="712" font-size="10.2" fill="#555555" stroke="#555555" stroke-width="0.05" textLength="12.72" lengthAdjust="spacingAndGlyphs">20</text>
<text x="301.92" y="712" font-size="10.2" fill="#555555" stroke="#555555" stroke-width="0.05" textLength="12.72" lengthAdjust="spacingAndGlyphs">40</text>
<text x="345.15" y="712" font-size="10.2" fill="#555555" stroke="#555555" stroke-width="0.05" textLength="12.72" lengthAdjust="spacingAndGlyphs">60</text>
<text x="388.37" y="712" font-size="10.2" fill="#555555" stroke="#555555" stroke-width="0.05" textLength="12.72" lengthAdjust="spacingAndGlyphs">80</text>
<text x="428.41" y="712" font-size="10.2" fill="#555555" stroke="#555555" stroke-width="0.05" textLength="19.08" lengthAdjust="spacingAndGlyphs">100</text>
<rect x="467" y="544" width="388" height="150" fill="#E5E5E5"/>
<path d="M509.5 544V694M552.5 544V694M595.5 544V694M639.5 544V694M682.5 544V694M725.5 544V694M768.5 544V694M812.5 544V694M467 677.5H855M467 660.5H855M467 644.5H855M467 627.5H855M467 610.5H855M467 593.5H855M467 576.5H855M467 560.5H855" stroke="#fff" stroke-width="1" fill="none" shape-rendering="crispEdges"/>
<g clip-path="url(#c7)"><polygon points="473,693.86 473,693.86 474.33,693.86 475.65,693.85 476.98,693.85 478.31,693.85 479.63,693.84 480.96,693.84 482.29,693.83 483.62,693.83 484.94,693.82 486.27,693.81 487.6,693.81 488.92,693.8 490.25,693.79 491.58,693.79 492.91,693.78 494.23,693.77 495.56,693.76 496.89,693.75 498.22,693.75 499.54,693.74 500.87,693.72 502.2,693.71 503.52,693.7 504.85,693.69 506.18,693.67 507.51,693.66 508.83,693.65 510.16,693.63 511.49,693.61 512.81,693.6 514.14,693.58 515.47,693.56 516.8,693.54 518.12,693.52 519.45,693.5 520.78,693.47 522.1,693.44 523.43,693.41 524.76,693.38 526.09,693.34 527.41,693.3 528.74,693.25 530.07,693.2 531.4,693.13 532.72,693.05 534.05,692.96 535.38,692.86 536.7,692.77 538.03,692.67 539.36,692.58 540.69,692.49 542.01,692.4 543.34,692.32 544.67,692.23 545.99,692.14 547.32,692.03 548.65,691.92 549.98,691.78 551.3,691.62 552.63,691.43 553.96,691.22 555.28,690.97 556.61,690.7 557.94,690.4 559.27,690.07 560.59,689.7 561.92,689.3 563.25,688.86 564.58,688.4 565.9,687.9 567.23,687.37 568.56,686.8 569.88,686.21 571.21,685.59 572.54,684.94 573.87,684.27 575.19,683.56 576.52,682.83 577.85,682.07 579.17,681.29 580.5,680.49 581.83,679.66 583.16,678.8 584.48,677.91 585.81,676.99 587.14,676.04 588.47,675.04 589.79,674.02 591.12,672.95 592.45,671.83 593.77,670.68 595.1,669.48 596.43,668.22 597.76,666.92 599.08,665.57 600.41,664.17 601.74,662.71 603.06,661.2 604.39,659.68 605.72,658.16 607.05,656.7 608.37,655.29 609.7,653.95 611.03,652.65 612.35,651.39 613.68,650.16 615.01,648.95 616.34,647.75 617.66,646.55 618.99,645.34 620.32,644.12 621.65,642.87 622.97,641.59 624.3,640.3 625.63,638.99 626.95,637.68 628.28,636.37 629.61,635.08 630.94,633.81 632.26,632.58 633.59,631.38 634.92,630.23 636.24,629.14 637.57,628.11 638.9,627.15 640.23,626.24 641.55,625.4 642.88,624.61 644.21,623.89 645.53,623.24 646.86,622.64 648.19,622.12 649.52,621.66 650.84,621.26 652.17,620.94 653.5,620.7 654.83,620.53 656.15,620.43 657.48,620.41 658.81,620.47 660.13,620.62 661.46,620.85 662.79,621.16 664.12,621.56 665.44,622.05 666.77,622.64 668.1,623.31 669.42,624.08 670.75,624.95 672.08,625.92 673.41,626.98 674.73,628.15 676.06,629.4 677.39,630.72 678.72,632.09 680.04,633.5 681.37,634.93 682.7,636.36 684.02,637.77 685.35,639.16 686.68,640.53 688.01,641.88 689.33,643.23 690.66,644.59 691.99,645.97 693.31,647.38 694.64,648.83 695.97,650.32 697.3,651.87 698.62,653.46 699.95,655.07 701.28,656.71 702.6,658.35 703.93,659.98 705.26,661.61 706.59,663.2 707.91,664.76 709.24,666.26 710.57,667.7 711.9,669.07 713.22,670.36 714.55,671.57 715.88,672.73 717.2,673.81 718.53,674.84 719.86,675.81 721.19,676.73 722.51,677.6 723.84,678.42 725.17,679.2 726.49,679.94 727.82,680.65 729.15,681.33 730.48,681.98 731.8,682.6 733.13,683.21 734.46,683.79 735.78,684.36 737.11,684.91 738.44,685.44 739.77,685.95 741.09,686.44 742.42,686.91 743.75,687.36 745.08,687.8 746.4,688.21 747.73,688.6 749.06,688.98 750.38,689.33 751.71,689.67 753.04,689.98 754.37,690.28 755.69,690.55 757.02,690.81 758.35,691.05 759.67,691.28 761,691.48 762.33,691.67 763.66,691.84 764.98,691.99 766.31,692.13 767.64,692.25 768.97,692.35 770.29,692.44 771.62,692.52 772.95,692.6 774.27,692.66 775.6,692.72 776.93,692.78 778.26,692.83 779.58,692.88 780.91,692.92 782.24,692.97 783.56,693.02 784.89,693.06 786.22,693.11 787.55,693.16 788.87,693.2 790.2,693.25 791.53,693.3 792.85,693.34 794.18,693.39 795.51,693.43 796.84,693.47 798.16,693.51 799.49,693.55 800.82,693.59 802.15,693.63 803.47,693.66 804.8,693.69 806.13,693.72 807.45,693.74 808.78,693.76 810.11,693.79 811.44,693.8 812.76,693.82 814.09,693.84 815.42,693.85 816.74,693.86 816.74,693.86" fill="#E24A33" fill-opacity="0.25"/><polyline points="473,693.86 474.33,693.86 475.65,693.85 476.98,693.85 478.31,693.85 479.63,693.84 480.96,693.84 482.29,693.83 483.62,693.83 484.94,693.82 486.27,693.81 487.6,693.81 488.92,693.8 490.25,693.79 491.58,693.79 492.91,693.78 494.23,693.77 495.56,693.76 496.89,693.75 498.22,693.75 499.54,693.74 500.87,693.72 502.2,693.71 503.52,693.7 504.85,693.69 506.18,693.67 507.51,693.66 508.83,693.65 510.16,693.63 511.49,693.61 512.81,693.6 514.14,693.58 515.47,693.56 516.8,693.54 518.12,693.52 519.45,693.5 520.78,693.47 522.1,693.44 523.43,693.41 524.76,693.38 526.09,693.34 527.41,693.3 528.74,693.25 530.07,693.2 531.4,693.13 532.72,693.05 534.05,692.96 535.38,692.86 536.7,692.77 538.03,692.67 539.36,692.58 540.69,692.49 542.01,692.4 543.34,692.32 544.67,692.23 545.99,692.14 547.32,692.03 548.65,691.92 549.98,691.78 551.3,691.62 552.63,691.43 553.96,691.22 555.28,690.97 556.61,690.7 557.94,690.4 559.27,690.07 560.59,689.7 561.92,689.3 563.25,688.86 564.58,688.4 565.9,687.9 567.23,687.37 568.56,686.8 569.88,686.21 571.21,685.59 572.54,684.94 573.87,684.27 575.19,683.56 576.52,682.83 577.85,682.07 579.17,681.29 580.5,680.49 581.83,679.66 583.16,678.8 584.48,677.91 585.81,676.99 587.14,676.04 588.47,675.04 589.79,674.02 591.12,672.95 592.45,671.83 593.77,670.68 595.1,669.48 596.43,668.22 597.76,666.92 599.08,665.57 600.41,664.17 601.74,662.71 603.06,661.2 604.39,659.68 605.72,658.16 607.05,656.7 608.37,655.29 609.7,653.95 611.03,652.65 612.35,651.39 613.68,650.16 615.01,648.95 616.34,647.75 617.66,646.55 618.99,645.34 620.32,644.12 621.65,642.87 622.97,641.59 624.3,640.3 625.63,638.99 626.95,637.68 628.28,636.37 629.61,635.08 630.94,633.81 632.26,632.58 633.59,631.38 634.92,630.23 636.24,629.14 637.57,628.11 638.9,627.15 640.23,626.24 641.55,625.4 642.88,624.61 644.21,623.89 645.53,623.24 646.86,622.64 648.19,622.12 649.52,621.66 650.84,621.26 652.17,620.94 653.5,620.7 654.83,620.53 656.15,620.43 657.48,620.41 658.81,620.47 660.13,620.62 661.46,620.85 662.79,621.16 664.12,621.56 665.44,622.05 666.77,622.64 668.1,623.31 669.42,624.08 670.75,624.95 672.08,625.92 673.41,626.98 674.73,628.15 676.06,629.4 677.39,630.72 678.72,632.09 680.04,633.5 681.37,634.93 682.7,636.36 684.02,637.77 685.35,639.16 686.68,640.53 688.01,641.88 689.33,643.23 690.66,644.59 691.99,645.97 693.31,647.38 694.64,648.83 695.97,650.32 697.3,651.87 698.62,653.46 699.95,655.07 701.28,656.71 702.6,658.35 703.93,659.98 705.26,661.61 706.59,663.2 707.91,664.76 709.24,666.26 710.57,667.7 711.9,669.07 713.22,670.36 714.55,671.57 715.88,672.73 717.2,673.81 718.53,674.84 719.86,675.81 721.19,676.73 722.51,677.6 723.84,678.42 725.17,679.2 726.49,679.94 727.82,680.65 729.15,681.33 730.48,681.98 731.8,682.6 733.13,683.21 734.46,683.79 735.78,684.36 737.11,684.91 738.44,685.44 739.77,685.95 741.09,686.44 742.42,686.91 743.75,687.36 745.08,687.8 746.4,688.21 747.73,688.6 749.06,688.98 750.38,689.33 751.71,689.67 753.04,689.98 754.37,690.28 755.69,690.55 757.02,690.81 758.35,691.05 759.67,691.28 761,691.48 762.33,691.67 763.66,691.84 764.98,691.99 766.31,692.13 767.64,692.25 768.97,692.35 770.29,692.44 771.62,692.52 772.95,692.6 774.27,692.66 775.6,692.72 776.93,692.78 778.26,692.83 779.58,692.88 780.91,692.92 782.24,692.97 783.56,693.02 784.89,693.06 786.22,693.11 787.55,693.16 788.87,693.2 790.2,693.25 791.53,693.3 792.85,693.34 794.18,693.39 795.51,693.43 796.84,693.47 798.16,693.51 799.49,693.55 800.82,693.59 802.15,693.63 803.47,693.66 804.8,693.69 806.13,693.72 807.45,693.74 808.78,693.76 810.11,693.79 811.44,693.8 812.76,693.82 814.09,693.84 815.42,693.85 816.74,693.86" fill="none" stroke="#E24A33" stroke-width="1.6" stroke-linejoin="round"/></g>
<path d="M466.5 537V543M466.5 695V701M509.5 537V543M509.5 695V701M552.5 537V543M552.5 695V701M595.5 537V543M595.5 695V701M639.5 537V543M639.5 695V701M682.5 537V543M682.5 695V701M725.5 537V543M725.5 695V701M768.5 537V543M768.5 695V701M812.5 537V543M812.5 695V701M855.5 537V543M855.5 695V701M460 694.5H466M856 694.5H862M460 677.5H466M856 677.5H862M460 660.5H466M856 660.5H862M460 644.5H466M856 644.5H862M460 627.5H466M856 627.5H862M460 610.5H466M856 610.5H862M460 593.5H466M856 593.5H862M460 576.5H466M856 576.5H862M460 560.5H466M856 560.5H862M460 543.5H466M856 543.5H862" stroke="#505050" stroke-width="1.3" fill="none" transform="translate(0.1,0.1)"/>
<text x="494.8" y="538" font-size="14.7" fill="#1e1e1e" stroke="#1e1e1e" stroke-width="0.08" textLength="47.81" lengthAdjust="spacingAndGlyphs">School</text>
<text x="547.19" y="538" font-size="14.7" fill="#1e1e1e" stroke="#1e1e1e" stroke-width="0.08" textLength="9.16" lengthAdjust="spacingAndGlyphs">7</text>
<text x="560.93" y="538" font-size="14.7" fill="#1e1e1e" stroke="#1e1e1e" stroke-width="0.08" textLength="72.24" lengthAdjust="spacingAndGlyphs">treatment</text>
<text x="637.75" y="538" font-size="14.7" fill="#1e1e1e" stroke="#1e1e1e" stroke-width="0.08" textLength="41.2" lengthAdjust="spacingAndGlyphs">effect</text>
<text x="683.53" y="538" font-size="14.7" fill="#1e1e1e" stroke="#1e1e1e" stroke-width="0.08" textLength="64.61" lengthAdjust="spacingAndGlyphs">posterior</text>
<text x="752.72" y="538" font-size="14.7" fill="#1e1e1e" stroke="#1e1e1e" stroke-width="0.08" textLength="71.69" lengthAdjust="spacingAndGlyphs">predictive</text>
<text x="455.63" y="712" font-size="10.2" fill="#555555" stroke="#555555" stroke-width="0.05" textLength="21.1" lengthAdjust="spacingAndGlyphs">−80</text>
<text x="498.85" y="712" font-size="10.2" fill="#555555" stroke="#555555" stroke-width="0.05" textLength="21.1" lengthAdjust="spacingAndGlyphs">−60</text>
<text x="542.07" y="712" font-size="10.2" fill="#555555" stroke="#555555" stroke-width="0.05" textLength="21.1" lengthAdjust="spacingAndGlyphs">−40</text>
<text x="585.3" y="712" font-size="10.2" fill="#555555" stroke="#555555" stroke-width="0.05" textLength="21.1" lengthAdjust="spacingAndGlyphs">−20</text>
<text x="635.89" y="712" font-size="10.2" fill="#555555" stroke="#555555" stroke-width="0.05" textLength="6.36" lengthAdjust="spacingAndGlyphs">0</text>
<text x="675.93" y="712" font-size="10.2" fill="#555555" stroke="#555555" stroke-width="0.05" textLength="12.72" lengthAdjust="spacingAndGlyphs">20</text>
<text x="719.15" y="712" font-size="10.2" fill="#555555" stroke="#555555" stroke-width="0.05" textLength="12.72" lengthAdjust="spacingAndGlyphs">40</text>
<text x="762.38" y="712" font-size="10.2" fill="#555555" stroke="#555555" stroke-width="0.05" textLength="12.72" lengthAdjust="spacingAndGlyphs">60</text>
<text x="805.6" y="712" font-size="10.2" fill="#555555" stroke="#555555" stroke-width="0.05" textLength="12.72" lengthAdjust="spacingAndGlyphs">80</text>
<text x="845.64" y="712" font-size="10.2" fill="#555555" stroke="#555555" stroke-width="0.05" textLength="19.08" lengthAdjust="spacingAndGlyphs">100</text>
</svg>
</body></html>
